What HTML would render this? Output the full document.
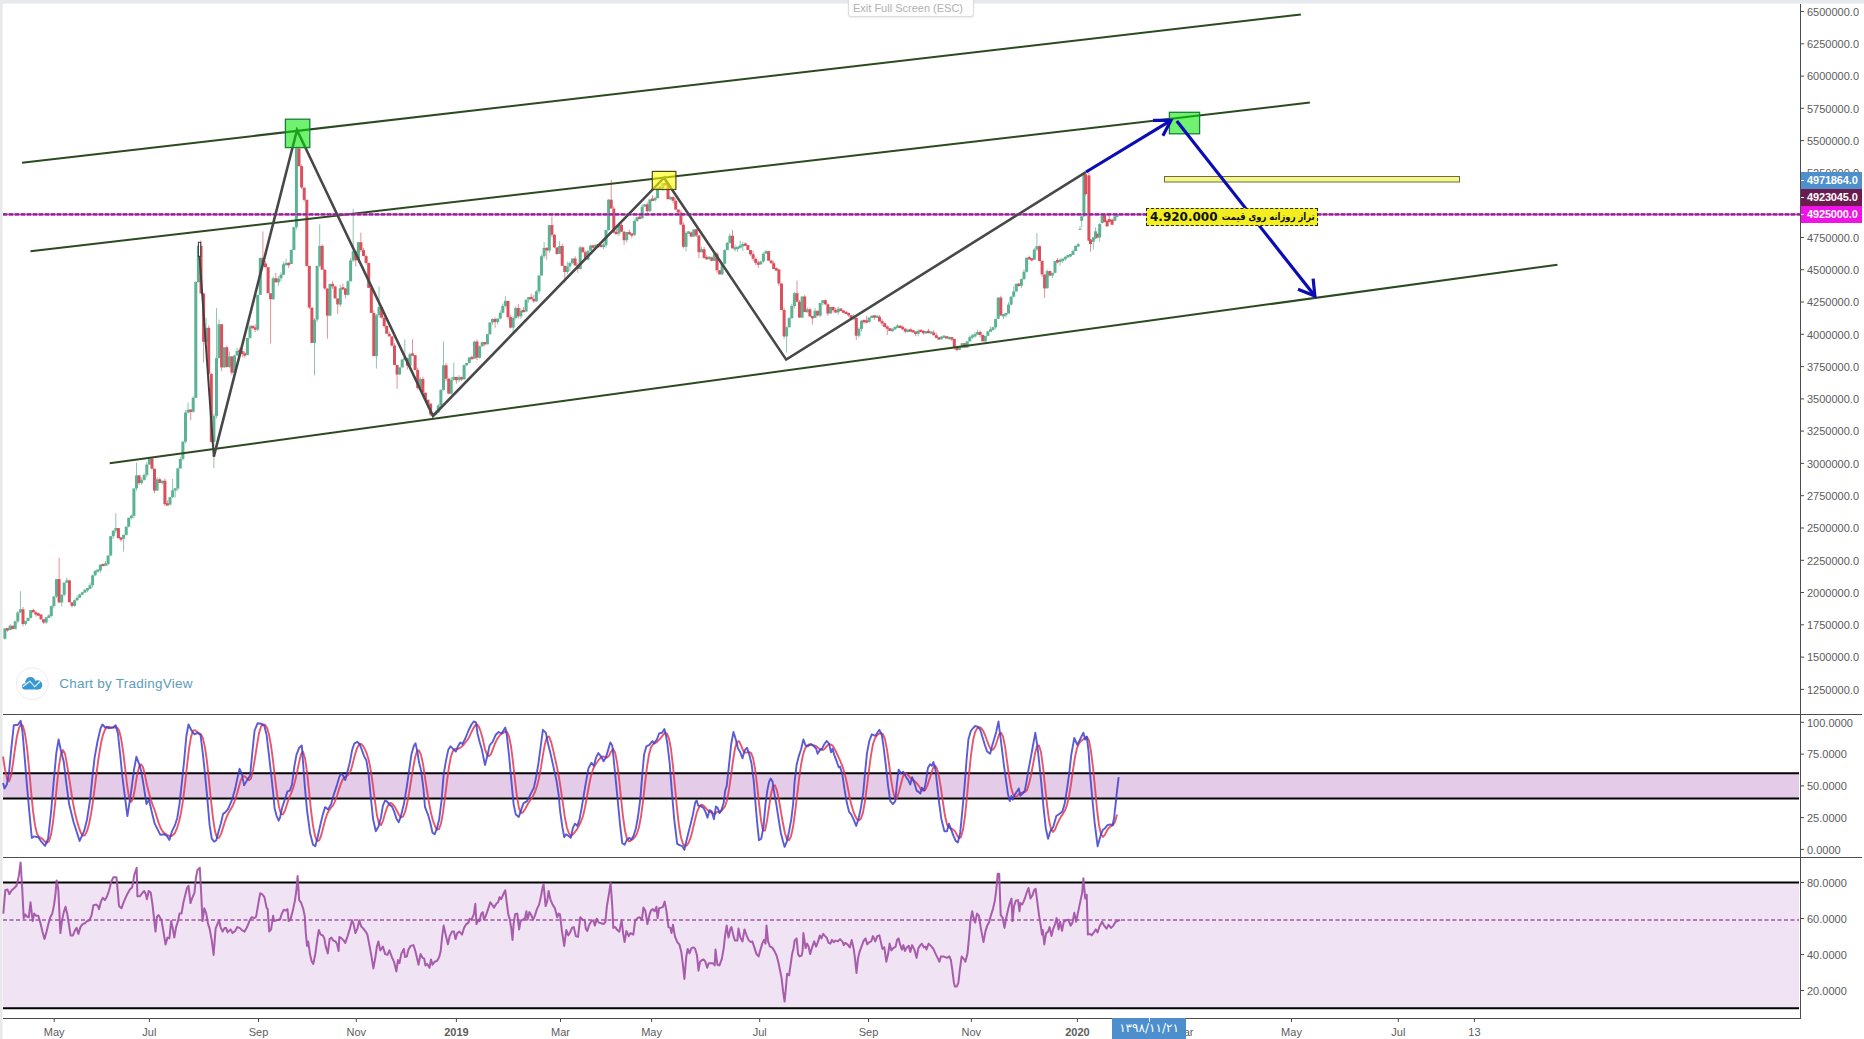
<!DOCTYPE html>
<html lang="fa"><head><meta charset="utf-8"><title>Chart by TradingView</title>
<style>
html,body{margin:0;padding:0;background:#fff;}
body{width:1864px;height:1039px;overflow:hidden;position:relative;font-family:"Liberation Sans","DejaVu Sans",sans-serif;}
svg{position:absolute;left:0;top:0;display:block}
.ax text{font-family:"Liberation Sans",sans-serif;font-size:11px;fill:#5c5c5c}
.exit{position:absolute;left:848px;top:-4px;width:126px;height:21px;border:1px solid #dcdcdc;border-radius:3px;background:#fdfdfd;color:#b2b2b2;font-size:11px;line-height:23px;text-align:left;padding-left:4px;box-sizing:border-box;box-shadow:0 1px 2px rgba(0,0,0,.08)}
.tv{position:absolute;left:59.2px;top:676px;font-size:13.5px;letter-spacing:.23px;color:#5d9cb8;line-height:16px;white-space:nowrap}
.note{position:absolute;left:1146px;top:208px;width:172px;height:18px;box-sizing:border-box;border:1px dashed #222;background:#f3ee22;color:#111;font-family:"DejaVu Sans","Liberation Sans",sans-serif;font-weight:bold;font-size:11.5px;line-height:15px;white-space:nowrap;direction:ltr;overflow:hidden}
.note span{position:absolute;top:0;white-space:nowrap}
.nn{left:3px;top:.5px!important;font-size:12px;direction:ltr}
.na{right:2px;font-size:10.2px;direction:rtl;transform:scaleX(.832);transform-origin:right center}
.tag{position:absolute;left:1801px;width:61px;height:17px;color:#fff;font-weight:bold;font-size:11px;line-height:17px;text-indent:6px;white-space:nowrap;letter-spacing:-0.15px}
.tag:before{content:"";position:absolute;left:0;top:8px;width:3px;height:1px;background:#fff}
.dt:before{content:"";position:absolute;left:37px;top:0;width:1px;height:4px;background:#fff}
.dt{position:absolute;left:1112px;top:1018px;width:74px;height:21px;background:#4c8fcc;color:#fff;font-size:12px;line-height:21px;text-align:center;font-family:"DejaVu Sans","Liberation Sans",sans-serif;direction:ltr}
</style></head><body>
<svg width="1864" height="1039" viewBox="0 0 1864 1039">
<rect width="1864" height="1039" fill="#fff"/>
<rect x="0" y="0" width="1864" height="3.6" fill="#e7eaec"/>
<rect x="0" y="0" width="2.6" height="1039" fill="#e9e9ea"/>
<!-- stoch band -->
<rect x="3" y="773" width="1796" height="26" fill="#e4cbe8"/>
<!-- rsi band -->
<rect x="3" y="882" width="1796" height="126" fill="#f0e3f3"/>
<!-- candles -->
<g>
<path d="M4.9 628.4V639.6" stroke="#8fc4b0" stroke-width="1"/>
<path d="M7.5 628.4V631.7" stroke="#e2929a" stroke-width="1"/>
<path d="M10.1 624.1V630.1" stroke="#8fc4b0" stroke-width="1"/>
<path d="M12.6 625.7V629.1" stroke="#e2929a" stroke-width="1"/>
<path d="M15.2 620.6V629.1" stroke="#8fc4b0" stroke-width="1"/>
<path d="M17.8 610.9V623.5" stroke="#8fc4b0" stroke-width="1"/>
<path d="M20.4 591.2V612.5" stroke="#8fc4b0" stroke-width="1"/>
<path d="M23.0 606.9V626.3" stroke="#e2929a" stroke-width="1"/>
<path d="M25.5 620.9V625.5" stroke="#8fc4b0" stroke-width="1"/>
<path d="M28.1 617.9V620.9" stroke="#8fc4b0" stroke-width="1"/>
<path d="M30.7 610.2V618.7" stroke="#8fc4b0" stroke-width="1"/>
<path d="M33.3 608.6V612.3" stroke="#e2929a" stroke-width="1"/>
<path d="M35.9 610.7V616.8" stroke="#e2929a" stroke-width="1"/>
<path d="M38.4 612.8V616.2" stroke="#e2929a" stroke-width="1"/>
<path d="M41.0 613.8V619.3" stroke="#e2929a" stroke-width="1"/>
<path d="M43.6 619.3V624.1" stroke="#e2929a" stroke-width="1"/>
<path d="M46.2 617.3V624.1" stroke="#8fc4b0" stroke-width="1"/>
<path d="M48.8 614.1V618.1" stroke="#8fc4b0" stroke-width="1"/>
<path d="M51.3 605.3V616.8" stroke="#8fc4b0" stroke-width="1"/>
<path d="M53.9 596.4V608.5" stroke="#8fc4b0" stroke-width="1"/>
<path d="M56.5 579.1V598.0" stroke="#8fc4b0" stroke-width="1"/>
<path d="M59.1 557.6V603.2" stroke="#e2929a" stroke-width="1"/>
<path d="M61.7 594.1V606.5" stroke="#8fc4b0" stroke-width="1"/>
<path d="M64.2 582.6V596.5" stroke="#8fc4b0" stroke-width="1"/>
<path d="M66.8 577.6V582.6" stroke="#8fc4b0" stroke-width="1"/>
<path d="M69.4 579.6V602.3" stroke="#e2929a" stroke-width="1"/>
<path d="M72.0 602.3V607.5" stroke="#e2929a" stroke-width="1"/>
<path d="M74.6 599.4V606.7" stroke="#8fc4b0" stroke-width="1"/>
<path d="M77.1 595.6V601.0" stroke="#8fc4b0" stroke-width="1"/>
<path d="M79.7 593.6V597.7" stroke="#8fc4b0" stroke-width="1"/>
<path d="M82.3 591.7V595.2" stroke="#8fc4b0" stroke-width="1"/>
<path d="M84.9 589.4V592.5" stroke="#8fc4b0" stroke-width="1"/>
<path d="M87.5 587.9V592.1" stroke="#8fc4b0" stroke-width="1"/>
<path d="M90.0 582.8V589.5" stroke="#8fc4b0" stroke-width="1"/>
<path d="M92.6 574.6V587.6" stroke="#8fc4b0" stroke-width="1"/>
<path d="M95.2 570.0V576.2" stroke="#8fc4b0" stroke-width="1"/>
<path d="M97.8 570.4V572.5" stroke="#8fc4b0" stroke-width="1"/>
<path d="M100.4 564.0V572.8" stroke="#8fc4b0" stroke-width="1"/>
<path d="M102.9 564.0V565.9" stroke="#e2929a" stroke-width="1"/>
<path d="M105.5 560.9V565.1" stroke="#8fc4b0" stroke-width="1"/>
<path d="M108.1 554.8V565.8" stroke="#8fc4b0" stroke-width="1"/>
<path d="M110.7 536.2V556.4" stroke="#8fc4b0" stroke-width="1"/>
<path d="M113.3 529.9V538.6" stroke="#8fc4b0" stroke-width="1"/>
<path d="M115.8 513.3V533.1" stroke="#8fc4b0" stroke-width="1"/>
<path d="M118.4 528.1V538.2" stroke="#e2929a" stroke-width="1"/>
<path d="M121.0 538.2V541.8" stroke="#e2929a" stroke-width="1"/>
<path d="M123.6 534.8V551.5" stroke="#8fc4b0" stroke-width="1"/>
<path d="M126.2 526.6V535.6" stroke="#8fc4b0" stroke-width="1"/>
<path d="M128.7 517.8V527.4" stroke="#8fc4b0" stroke-width="1"/>
<path d="M131.3 514.3V519.4" stroke="#8fc4b0" stroke-width="1"/>
<path d="M133.9 488.4V518.3" stroke="#8fc4b0" stroke-width="1"/>
<path d="M136.5 462.7V490.8" stroke="#8fc4b0" stroke-width="1"/>
<path d="M139.1 475.4V485.0" stroke="#e2929a" stroke-width="1"/>
<path d="M141.6 477.4V484.7" stroke="#8fc4b0" stroke-width="1"/>
<path d="M144.2 473.5V480.7" stroke="#8fc4b0" stroke-width="1"/>
<path d="M146.8 462.2V477.3" stroke="#8fc4b0" stroke-width="1"/>
<path d="M149.4 458.4V464.6" stroke="#8fc4b0" stroke-width="1"/>
<path d="M152.0 458.4V469.5" stroke="#e2929a" stroke-width="1"/>
<path d="M154.5 468.7V493.1" stroke="#e2929a" stroke-width="1"/>
<path d="M157.1 477.1V490.6" stroke="#8fc4b0" stroke-width="1"/>
<path d="M159.7 477.7V482.9" stroke="#e2929a" stroke-width="1"/>
<path d="M162.3 480.8V484.5" stroke="#8fc4b0" stroke-width="1"/>
<path d="M164.9 478.4V506.1" stroke="#e2929a" stroke-width="1"/>
<path d="M167.4 500.3V505.4" stroke="#e2929a" stroke-width="1"/>
<path d="M170.0 497.2V505.4" stroke="#8fc4b0" stroke-width="1"/>
<path d="M172.6 479.0V498.0" stroke="#8fc4b0" stroke-width="1"/>
<path d="M175.2 488.4V497.5" stroke="#8fc4b0" stroke-width="1"/>
<path d="M177.8 467.7V490.8" stroke="#8fc4b0" stroke-width="1"/>
<path d="M180.3 456.6V468.5" stroke="#8fc4b0" stroke-width="1"/>
<path d="M182.9 441.6V460.6" stroke="#8fc4b0" stroke-width="1"/>
<path d="M185.5 410.2V443.2" stroke="#8fc4b0" stroke-width="1"/>
<path d="M188.1 402.4V413.4" stroke="#8fc4b0" stroke-width="1"/>
<path d="M190.7 409.7V420.2" stroke="#e2929a" stroke-width="1"/>
<path d="M193.2 396.2V412.6" stroke="#8fc4b0" stroke-width="1"/>
<path d="M195.8 281.2V397.8" stroke="#8fc4b0" stroke-width="1"/>
<path d="M198.4 244.3V282.8" stroke="#8fc4b0" stroke-width="1"/>
<path d="M201.0 240.4V293.5" stroke="#e2929a" stroke-width="1"/>
<path d="M203.6 292.7V362.6" stroke="#e2929a" stroke-width="1"/>
<path d="M206.1 317.6V343.4" stroke="#8fc4b0" stroke-width="1"/>
<path d="M208.7 325.3V373.9" stroke="#e2929a" stroke-width="1"/>
<path d="M211.3 373.1V442.7" stroke="#e2929a" stroke-width="1"/>
<path d="M213.9 413.5V468.2" stroke="#8fc4b0" stroke-width="1"/>
<path d="M216.5 308.1V418.3" stroke="#8fc4b0" stroke-width="1"/>
<path d="M219.0 319.4V358.1" stroke="#8fc4b0" stroke-width="1"/>
<path d="M221.6 324.2V371.0" stroke="#e2929a" stroke-width="1"/>
<path d="M224.2 347.3V368.1" stroke="#8fc4b0" stroke-width="1"/>
<path d="M226.8 345.7V367.7" stroke="#e2929a" stroke-width="1"/>
<path d="M229.4 351.6V367.8" stroke="#8fc4b0" stroke-width="1"/>
<path d="M231.9 356.4V375.2" stroke="#e2929a" stroke-width="1"/>
<path d="M234.5 354.7V375.2" stroke="#8fc4b0" stroke-width="1"/>
<path d="M237.1 348.1V355.5" stroke="#8fc4b0" stroke-width="1"/>
<path d="M239.7 347.8V351.9" stroke="#e2929a" stroke-width="1"/>
<path d="M242.3 348.7V357.3" stroke="#e2929a" stroke-width="1"/>
<path d="M244.8 351.5V357.7" stroke="#e2929a" stroke-width="1"/>
<path d="M247.4 337.7V355.0" stroke="#8fc4b0" stroke-width="1"/>
<path d="M250.0 324.8V338.8" stroke="#8fc4b0" stroke-width="1"/>
<path d="M252.6 326.4V329.1" stroke="#e2929a" stroke-width="1"/>
<path d="M255.2 324.4V332.0" stroke="#e2929a" stroke-width="1"/>
<path d="M257.7 294.9V331.2" stroke="#8fc4b0" stroke-width="1"/>
<path d="M260.3 257.6V294.9" stroke="#8fc4b0" stroke-width="1"/>
<path d="M262.9 231.4V265.9" stroke="#e2929a" stroke-width="1"/>
<path d="M265.5 261.1V267.2" stroke="#e2929a" stroke-width="1"/>
<path d="M268.1 267.2V293.3" stroke="#e2929a" stroke-width="1"/>
<path d="M270.6 293.3V343.5" stroke="#e2929a" stroke-width="1"/>
<path d="M273.2 276.7V300.0" stroke="#8fc4b0" stroke-width="1"/>
<path d="M275.8 273.0V282.3" stroke="#e2929a" stroke-width="1"/>
<path d="M278.4 276.1V285.9" stroke="#8fc4b0" stroke-width="1"/>
<path d="M281.0 272.2V281.7" stroke="#8fc4b0" stroke-width="1"/>
<path d="M283.5 261.7V275.4" stroke="#8fc4b0" stroke-width="1"/>
<path d="M286.1 258.7V264.3" stroke="#8fc4b0" stroke-width="1"/>
<path d="M288.7 262.4V267.9" stroke="#e2929a" stroke-width="1"/>
<path d="M291.3 249.2V264.0" stroke="#8fc4b0" stroke-width="1"/>
<path d="M293.9 227.1V250.0" stroke="#8fc4b0" stroke-width="1"/>
<path d="M296.4 146.8V229.5" stroke="#8fc4b0" stroke-width="1"/>
<path d="M299.0 148.4V166.9" stroke="#e2929a" stroke-width="1"/>
<path d="M301.6 164.5V189.2" stroke="#e2929a" stroke-width="1"/>
<path d="M304.2 187.6V201.4" stroke="#e2929a" stroke-width="1"/>
<path d="M306.8 199.8V266.7" stroke="#e2929a" stroke-width="1"/>
<path d="M309.3 265.9V309.2" stroke="#e2929a" stroke-width="1"/>
<path d="M311.9 307.6V342.8" stroke="#e2929a" stroke-width="1"/>
<path d="M314.5 318.1V375.3" stroke="#8fc4b0" stroke-width="1"/>
<path d="M317.1 265.8V322.1" stroke="#8fc4b0" stroke-width="1"/>
<path d="M319.7 224.4V267.4" stroke="#8fc4b0" stroke-width="1"/>
<path d="M322.2 244.3V269.8" stroke="#e2929a" stroke-width="1"/>
<path d="M324.8 268.5V290.1" stroke="#e2929a" stroke-width="1"/>
<path d="M327.4 288.5V338.7" stroke="#e2929a" stroke-width="1"/>
<path d="M330.0 283.9V316.4" stroke="#8fc4b0" stroke-width="1"/>
<path d="M332.6 281.2V288.8" stroke="#e2929a" stroke-width="1"/>
<path d="M335.1 286.4V298.4" stroke="#e2929a" stroke-width="1"/>
<path d="M337.7 298.4V314.0" stroke="#e2929a" stroke-width="1"/>
<path d="M340.3 284.8V306.9" stroke="#8fc4b0" stroke-width="1"/>
<path d="M342.9 283.4V288.4" stroke="#e2929a" stroke-width="1"/>
<path d="M345.5 288.4V298.5" stroke="#e2929a" stroke-width="1"/>
<path d="M348.0 280.4V295.6" stroke="#8fc4b0" stroke-width="1"/>
<path d="M350.6 258.0V281.3" stroke="#8fc4b0" stroke-width="1"/>
<path d="M353.2 208.8V262.0" stroke="#8fc4b0" stroke-width="1"/>
<path d="M355.8 250.4V266.3" stroke="#e2929a" stroke-width="1"/>
<path d="M358.4 242.2V262.8" stroke="#8fc4b0" stroke-width="1"/>
<path d="M360.9 232.6V251.7" stroke="#e2929a" stroke-width="1"/>
<path d="M363.5 247.7V256.1" stroke="#e2929a" stroke-width="1"/>
<path d="M366.1 254.5V264.5" stroke="#e2929a" stroke-width="1"/>
<path d="M368.7 262.9V287.9" stroke="#e2929a" stroke-width="1"/>
<path d="M371.3 287.9V313.0" stroke="#e2929a" stroke-width="1"/>
<path d="M373.8 310.2V356.0" stroke="#e2929a" stroke-width="1"/>
<path d="M376.4 314.0V368.6" stroke="#8fc4b0" stroke-width="1"/>
<path d="M379.0 286.4V317.6" stroke="#8fc4b0" stroke-width="1"/>
<path d="M381.6 306.2V318.6" stroke="#e2929a" stroke-width="1"/>
<path d="M384.2 315.4V327.6" stroke="#e2929a" stroke-width="1"/>
<path d="M386.7 325.2V333.8" stroke="#e2929a" stroke-width="1"/>
<path d="M389.3 331.4V336.4" stroke="#e2929a" stroke-width="1"/>
<path d="M391.9 336.4V346.4" stroke="#e2929a" stroke-width="1"/>
<path d="M394.5 343.2V365.0" stroke="#e2929a" stroke-width="1"/>
<path d="M397.1 365.0V388.8" stroke="#e2929a" stroke-width="1"/>
<path d="M399.6 367.4V375.2" stroke="#8fc4b0" stroke-width="1"/>
<path d="M402.2 358.8V367.4" stroke="#8fc4b0" stroke-width="1"/>
<path d="M404.8 339.3V360.4" stroke="#8fc4b0" stroke-width="1"/>
<path d="M407.4 357.5V369.4" stroke="#e2929a" stroke-width="1"/>
<path d="M410.0 352.6V368.1" stroke="#8fc4b0" stroke-width="1"/>
<path d="M412.5 339.4V355.1" stroke="#e2929a" stroke-width="1"/>
<path d="M415.1 355.1V370.0" stroke="#e2929a" stroke-width="1"/>
<path d="M417.7 367.6V389.5" stroke="#e2929a" stroke-width="1"/>
<path d="M420.3 377.0V389.0" stroke="#8fc4b0" stroke-width="1"/>
<path d="M422.9 376.6V392.7" stroke="#e2929a" stroke-width="1"/>
<path d="M425.4 392.7V400.5" stroke="#e2929a" stroke-width="1"/>
<path d="M428.0 399.7V408.2" stroke="#e2929a" stroke-width="1"/>
<path d="M430.6 403.6V415.9" stroke="#e2929a" stroke-width="1"/>
<path d="M433.2 413.5V415.8" stroke="#e2929a" stroke-width="1"/>
<path d="M435.8 410.0V415.4" stroke="#8fc4b0" stroke-width="1"/>
<path d="M438.3 403.9V413.2" stroke="#8fc4b0" stroke-width="1"/>
<path d="M440.9 389.1V407.9" stroke="#8fc4b0" stroke-width="1"/>
<path d="M443.5 341.6V390.7" stroke="#8fc4b0" stroke-width="1"/>
<path d="M446.1 362.9V381.1" stroke="#e2929a" stroke-width="1"/>
<path d="M448.7 377.9V394.4" stroke="#e2929a" stroke-width="1"/>
<path d="M451.2 377.0V394.7" stroke="#8fc4b0" stroke-width="1"/>
<path d="M453.8 362.5V380.7" stroke="#8fc4b0" stroke-width="1"/>
<path d="M456.4 376.9V383.7" stroke="#e2929a" stroke-width="1"/>
<path d="M459.0 375.1V381.9" stroke="#8fc4b0" stroke-width="1"/>
<path d="M461.6 376.5V381.0" stroke="#e2929a" stroke-width="1"/>
<path d="M464.1 364.4V379.4" stroke="#8fc4b0" stroke-width="1"/>
<path d="M466.7 362.9V366.0" stroke="#8fc4b0" stroke-width="1"/>
<path d="M469.3 356.8V363.7" stroke="#8fc4b0" stroke-width="1"/>
<path d="M471.9 355.5V359.4" stroke="#e2929a" stroke-width="1"/>
<path d="M474.5 340.8V358.6" stroke="#8fc4b0" stroke-width="1"/>
<path d="M477.0 339.4V360.1" stroke="#e2929a" stroke-width="1"/>
<path d="M479.6 345.5V358.5" stroke="#8fc4b0" stroke-width="1"/>
<path d="M482.2 341.6V346.3" stroke="#8fc4b0" stroke-width="1"/>
<path d="M484.8 342.1V346.1" stroke="#e2929a" stroke-width="1"/>
<path d="M487.4 334.1V344.3" stroke="#8fc4b0" stroke-width="1"/>
<path d="M489.9 322.4V334.9" stroke="#8fc4b0" stroke-width="1"/>
<path d="M492.5 318.2V324.8" stroke="#8fc4b0" stroke-width="1"/>
<path d="M495.1 317.4V327.7" stroke="#e2929a" stroke-width="1"/>
<path d="M497.7 318.5V324.5" stroke="#8fc4b0" stroke-width="1"/>
<path d="M500.3 310.2V319.3" stroke="#8fc4b0" stroke-width="1"/>
<path d="M502.8 303.5V313.6" stroke="#8fc4b0" stroke-width="1"/>
<path d="M505.4 296.1V307.5" stroke="#8fc4b0" stroke-width="1"/>
<path d="M508.0 300.9V319.5" stroke="#e2929a" stroke-width="1"/>
<path d="M510.6 314.7V328.4" stroke="#e2929a" stroke-width="1"/>
<path d="M513.2 316.4V332.8" stroke="#8fc4b0" stroke-width="1"/>
<path d="M515.7 306.4V319.6" stroke="#8fc4b0" stroke-width="1"/>
<path d="M518.3 304.0V318.7" stroke="#e2929a" stroke-width="1"/>
<path d="M520.9 308.2V318.7" stroke="#8fc4b0" stroke-width="1"/>
<path d="M523.5 307.1V311.6" stroke="#e2929a" stroke-width="1"/>
<path d="M526.1 299.7V311.6" stroke="#8fc4b0" stroke-width="1"/>
<path d="M528.6 297.1V302.6" stroke="#8fc4b0" stroke-width="1"/>
<path d="M531.2 293.6V299.0" stroke="#e2929a" stroke-width="1"/>
<path d="M533.8 295.0V302.8" stroke="#e2929a" stroke-width="1"/>
<path d="M536.4 289.9V302.0" stroke="#8fc4b0" stroke-width="1"/>
<path d="M539.0 275.5V293.8" stroke="#8fc4b0" stroke-width="1"/>
<path d="M541.5 254.6V275.5" stroke="#8fc4b0" stroke-width="1"/>
<path d="M544.1 242.0V258.6" stroke="#8fc4b0" stroke-width="1"/>
<path d="M546.7 247.1V259.7" stroke="#e2929a" stroke-width="1"/>
<path d="M549.3 225.1V252.9" stroke="#8fc4b0" stroke-width="1"/>
<path d="M551.9 216.6V237.2" stroke="#e2929a" stroke-width="1"/>
<path d="M554.4 234.0V248.2" stroke="#e2929a" stroke-width="1"/>
<path d="M557.0 247.4V254.7" stroke="#e2929a" stroke-width="1"/>
<path d="M559.6 241.2V253.9" stroke="#8fc4b0" stroke-width="1"/>
<path d="M562.2 243.6V265.8" stroke="#e2929a" stroke-width="1"/>
<path d="M564.8 265.8V282.7" stroke="#e2929a" stroke-width="1"/>
<path d="M567.3 261.8V274.4" stroke="#8fc4b0" stroke-width="1"/>
<path d="M569.9 261.4V270.8" stroke="#8fc4b0" stroke-width="1"/>
<path d="M572.5 258.5V263.8" stroke="#8fc4b0" stroke-width="1"/>
<path d="M575.1 256.1V266.4" stroke="#e2929a" stroke-width="1"/>
<path d="M577.7 262.9V272.7" stroke="#e2929a" stroke-width="1"/>
<path d="M580.2 245.8V269.7" stroke="#8fc4b0" stroke-width="1"/>
<path d="M582.8 246.6V252.2" stroke="#e2929a" stroke-width="1"/>
<path d="M585.4 250.6V259.6" stroke="#e2929a" stroke-width="1"/>
<path d="M588.0 250.7V260.4" stroke="#8fc4b0" stroke-width="1"/>
<path d="M590.6 244.7V250.7" stroke="#8fc4b0" stroke-width="1"/>
<path d="M593.1 244.7V248.4" stroke="#e2929a" stroke-width="1"/>
<path d="M595.7 244.6V247.6" stroke="#8fc4b0" stroke-width="1"/>
<path d="M598.3 244.6V247.9" stroke="#e2929a" stroke-width="1"/>
<path d="M600.9 244.4V246.5" stroke="#e2929a" stroke-width="1"/>
<path d="M603.5 242.8V249.0" stroke="#8fc4b0" stroke-width="1"/>
<path d="M606.0 230.0V247.6" stroke="#8fc4b0" stroke-width="1"/>
<path d="M608.6 198.9V230.8" stroke="#8fc4b0" stroke-width="1"/>
<path d="M611.2 179.9V208.6" stroke="#e2929a" stroke-width="1"/>
<path d="M613.8 206.2V233.4" stroke="#e2929a" stroke-width="1"/>
<path d="M616.4 228.4V233.6" stroke="#e2929a" stroke-width="1"/>
<path d="M618.9 224.1V236.0" stroke="#8fc4b0" stroke-width="1"/>
<path d="M621.5 223.4V231.7" stroke="#e2929a" stroke-width="1"/>
<path d="M624.1 230.9V244.9" stroke="#e2929a" stroke-width="1"/>
<path d="M626.7 232.0V242.6" stroke="#8fc4b0" stroke-width="1"/>
<path d="M629.3 229.6V235.0" stroke="#e2929a" stroke-width="1"/>
<path d="M631.8 234.2V238.3" stroke="#e2929a" stroke-width="1"/>
<path d="M634.4 219.4V236.3" stroke="#8fc4b0" stroke-width="1"/>
<path d="M637.0 216.5V221.8" stroke="#8fc4b0" stroke-width="1"/>
<path d="M639.6 215.6V218.2" stroke="#e2929a" stroke-width="1"/>
<path d="M642.2 204.2V219.0" stroke="#8fc4b0" stroke-width="1"/>
<path d="M644.7 204.3V206.6" stroke="#8fc4b0" stroke-width="1"/>
<path d="M647.3 202.4V212.8" stroke="#e2929a" stroke-width="1"/>
<path d="M649.9 198.7V212.0" stroke="#8fc4b0" stroke-width="1"/>
<path d="M652.5 195.2V200.8" stroke="#e2929a" stroke-width="1"/>
<path d="M655.1 196.6V201.6" stroke="#8fc4b0" stroke-width="1"/>
<path d="M657.6 187.7V198.2" stroke="#8fc4b0" stroke-width="1"/>
<path d="M660.2 185.8V189.3" stroke="#e2929a" stroke-width="1"/>
<path d="M662.8 183.1V190.9" stroke="#8fc4b0" stroke-width="1"/>
<path d="M665.4 176.9V185.3" stroke="#e2929a" stroke-width="1"/>
<path d="M668.0 182.7V199.2" stroke="#e2929a" stroke-width="1"/>
<path d="M670.5 196.3V200.0" stroke="#8fc4b0" stroke-width="1"/>
<path d="M673.1 196.3V203.3" stroke="#e2929a" stroke-width="1"/>
<path d="M675.7 198.4V210.3" stroke="#e2929a" stroke-width="1"/>
<path d="M678.3 209.5V213.3" stroke="#e2929a" stroke-width="1"/>
<path d="M680.9 210.1V225.5" stroke="#e2929a" stroke-width="1"/>
<path d="M683.4 222.3V248.5" stroke="#e2929a" stroke-width="1"/>
<path d="M686.0 231.3V251.5" stroke="#8fc4b0" stroke-width="1"/>
<path d="M688.6 231.1V233.8" stroke="#8fc4b0" stroke-width="1"/>
<path d="M691.2 231.6V237.3" stroke="#e2929a" stroke-width="1"/>
<path d="M693.8 229.4V236.5" stroke="#8fc4b0" stroke-width="1"/>
<path d="M696.3 228.6V237.0" stroke="#e2929a" stroke-width="1"/>
<path d="M698.9 235.4V258.2" stroke="#e2929a" stroke-width="1"/>
<path d="M701.5 246.9V252.2" stroke="#8fc4b0" stroke-width="1"/>
<path d="M704.1 246.8V258.7" stroke="#e2929a" stroke-width="1"/>
<path d="M706.7 255.0V259.8" stroke="#e2929a" stroke-width="1"/>
<path d="M709.2 256.6V260.4" stroke="#8fc4b0" stroke-width="1"/>
<path d="M711.8 256.6V261.5" stroke="#e2929a" stroke-width="1"/>
<path d="M714.4 252.1V260.7" stroke="#8fc4b0" stroke-width="1"/>
<path d="M717.0 252.2V272.7" stroke="#e2929a" stroke-width="1"/>
<path d="M719.6 270.3V274.3" stroke="#e2929a" stroke-width="1"/>
<path d="M722.1 263.8V275.1" stroke="#8fc4b0" stroke-width="1"/>
<path d="M724.7 249.3V264.6" stroke="#8fc4b0" stroke-width="1"/>
<path d="M727.3 241.9V250.1" stroke="#8fc4b0" stroke-width="1"/>
<path d="M729.9 233.4V243.7" stroke="#8fc4b0" stroke-width="1"/>
<path d="M732.5 230.0V248.4" stroke="#e2929a" stroke-width="1"/>
<path d="M735.0 244.7V251.5" stroke="#8fc4b0" stroke-width="1"/>
<path d="M737.6 247.1V251.8" stroke="#8fc4b0" stroke-width="1"/>
<path d="M740.2 240.8V248.7" stroke="#8fc4b0" stroke-width="1"/>
<path d="M742.8 241.9V250.9" stroke="#8fc4b0" stroke-width="1"/>
<path d="M745.4 242.2V245.1" stroke="#e2929a" stroke-width="1"/>
<path d="M747.9 245.1V250.1" stroke="#e2929a" stroke-width="1"/>
<path d="M750.5 250.1V255.8" stroke="#e2929a" stroke-width="1"/>
<path d="M753.1 250.5V261.2" stroke="#e2929a" stroke-width="1"/>
<path d="M755.7 257.4V265.3" stroke="#e2929a" stroke-width="1"/>
<path d="M758.3 260.5V268.1" stroke="#e2929a" stroke-width="1"/>
<path d="M760.8 260.7V264.4" stroke="#8fc4b0" stroke-width="1"/>
<path d="M763.4 252.1V262.9" stroke="#8fc4b0" stroke-width="1"/>
<path d="M766.0 249.9V253.7" stroke="#8fc4b0" stroke-width="1"/>
<path d="M768.6 251.2V260.6" stroke="#e2929a" stroke-width="1"/>
<path d="M771.2 259.8V264.0" stroke="#e2929a" stroke-width="1"/>
<path d="M773.7 260.8V269.1" stroke="#e2929a" stroke-width="1"/>
<path d="M776.3 267.3V271.1" stroke="#e2929a" stroke-width="1"/>
<path d="M778.9 268.7V285.9" stroke="#e2929a" stroke-width="1"/>
<path d="M781.5 283.5V310.0" stroke="#e2929a" stroke-width="1"/>
<path d="M784.1 307.6V338.8" stroke="#e2929a" stroke-width="1"/>
<path d="M786.6 326.4V352.5" stroke="#8fc4b0" stroke-width="1"/>
<path d="M789.2 317.3V327.2" stroke="#8fc4b0" stroke-width="1"/>
<path d="M791.8 303.6V318.9" stroke="#8fc4b0" stroke-width="1"/>
<path d="M794.4 292.0V308.4" stroke="#8fc4b0" stroke-width="1"/>
<path d="M797.0 280.6V302.5" stroke="#e2929a" stroke-width="1"/>
<path d="M799.5 300.1V317.5" stroke="#e2929a" stroke-width="1"/>
<path d="M802.1 296.5V318.3" stroke="#8fc4b0" stroke-width="1"/>
<path d="M804.7 295.0V312.1" stroke="#e2929a" stroke-width="1"/>
<path d="M807.3 307.5V312.9" stroke="#8fc4b0" stroke-width="1"/>
<path d="M809.9 307.7V317.2" stroke="#e2929a" stroke-width="1"/>
<path d="M812.4 316.4V324.6" stroke="#e2929a" stroke-width="1"/>
<path d="M815.0 308.1V318.0" stroke="#8fc4b0" stroke-width="1"/>
<path d="M817.6 310.8V316.4" stroke="#e2929a" stroke-width="1"/>
<path d="M820.2 302.9V317.2" stroke="#8fc4b0" stroke-width="1"/>
<path d="M822.8 300.2V305.3" stroke="#8fc4b0" stroke-width="1"/>
<path d="M825.3 299.4V305.1" stroke="#e2929a" stroke-width="1"/>
<path d="M827.9 303.5V315.9" stroke="#e2929a" stroke-width="1"/>
<path d="M830.5 306.9V313.5" stroke="#8fc4b0" stroke-width="1"/>
<path d="M833.1 306.9V312.7" stroke="#e2929a" stroke-width="1"/>
<path d="M835.7 307.9V313.1" stroke="#e2929a" stroke-width="1"/>
<path d="M838.2 306.5V314.7" stroke="#8fc4b0" stroke-width="1"/>
<path d="M840.8 308.1V311.4" stroke="#e2929a" stroke-width="1"/>
<path d="M843.4 310.6V312.7" stroke="#e2929a" stroke-width="1"/>
<path d="M846.0 312.6V313.8" stroke="#e2929a" stroke-width="1"/>
<path d="M848.6 313.0V316.8" stroke="#e2929a" stroke-width="1"/>
<path d="M851.1 315.2V319.2" stroke="#e2929a" stroke-width="1"/>
<path d="M853.7 314.1V319.2" stroke="#8fc4b0" stroke-width="1"/>
<path d="M856.3 315.6V340.0" stroke="#e2929a" stroke-width="1"/>
<path d="M858.9 327.3V337.8" stroke="#8fc4b0" stroke-width="1"/>
<path d="M861.5 320.0V331.3" stroke="#8fc4b0" stroke-width="1"/>
<path d="M864.0 320.8V323.9" stroke="#e2929a" stroke-width="1"/>
<path d="M866.6 315.8V323.4" stroke="#e2929a" stroke-width="1"/>
<path d="M869.2 317.5V322.8" stroke="#8fc4b0" stroke-width="1"/>
<path d="M871.8 316.0V318.3" stroke="#8fc4b0" stroke-width="1"/>
<path d="M874.4 316.0V319.8" stroke="#e2929a" stroke-width="1"/>
<path d="M876.9 315.9V317.9" stroke="#8fc4b0" stroke-width="1"/>
<path d="M879.5 315.1V321.5" stroke="#e2929a" stroke-width="1"/>
<path d="M882.1 319.1V326.2" stroke="#e2929a" stroke-width="1"/>
<path d="M884.7 322.4V327.7" stroke="#e2929a" stroke-width="1"/>
<path d="M887.3 325.3V335.0" stroke="#e2929a" stroke-width="1"/>
<path d="M889.8 328.2V331.0" stroke="#e2929a" stroke-width="1"/>
<path d="M892.4 328.2V331.8" stroke="#8fc4b0" stroke-width="1"/>
<path d="M895.0 326.3V329.8" stroke="#8fc4b0" stroke-width="1"/>
<path d="M897.6 324.1V328.1" stroke="#8fc4b0" stroke-width="1"/>
<path d="M900.2 325.2V327.7" stroke="#e2929a" stroke-width="1"/>
<path d="M902.7 325.3V330.1" stroke="#e2929a" stroke-width="1"/>
<path d="M905.3 328.6V333.2" stroke="#e2929a" stroke-width="1"/>
<path d="M907.9 329.2V332.4" stroke="#8fc4b0" stroke-width="1"/>
<path d="M910.5 328.4V331.5" stroke="#e2929a" stroke-width="1"/>
<path d="M913.1 330.2V331.6" stroke="#e2929a" stroke-width="1"/>
<path d="M915.6 331.6V336.2" stroke="#e2929a" stroke-width="1"/>
<path d="M918.2 329.2V336.4" stroke="#8fc4b0" stroke-width="1"/>
<path d="M920.8 330.0V331.5" stroke="#e2929a" stroke-width="1"/>
<path d="M923.4 330.2V334.6" stroke="#e2929a" stroke-width="1"/>
<path d="M926.0 331.3V333.8" stroke="#8fc4b0" stroke-width="1"/>
<path d="M928.5 328.9V333.4" stroke="#e2929a" stroke-width="1"/>
<path d="M931.1 332.5V333.4" stroke="#8fc4b0" stroke-width="1"/>
<path d="M933.7 330.1V335.2" stroke="#e2929a" stroke-width="1"/>
<path d="M936.3 332.8V337.9" stroke="#e2929a" stroke-width="1"/>
<path d="M938.9 337.1V339.7" stroke="#e2929a" stroke-width="1"/>
<path d="M941.4 336.0V339.7" stroke="#8fc4b0" stroke-width="1"/>
<path d="M944.0 335.9V337.0" stroke="#8fc4b0" stroke-width="1"/>
<path d="M946.6 336.7V338.1" stroke="#e2929a" stroke-width="1"/>
<path d="M949.2 337.0V339.7" stroke="#8fc4b0" stroke-width="1"/>
<path d="M951.8 337.8V341.1" stroke="#e2929a" stroke-width="1"/>
<path d="M954.3 338.9V349.7" stroke="#e2929a" stroke-width="1"/>
<path d="M956.9 345.6V351.4" stroke="#e2929a" stroke-width="1"/>
<path d="M959.5 347.5V349.7" stroke="#8fc4b0" stroke-width="1"/>
<path d="M962.1 343.2V348.3" stroke="#8fc4b0" stroke-width="1"/>
<path d="M964.7 343.2V348.4" stroke="#e2929a" stroke-width="1"/>
<path d="M967.2 341.4V347.6" stroke="#8fc4b0" stroke-width="1"/>
<path d="M969.8 335.5V341.4" stroke="#8fc4b0" stroke-width="1"/>
<path d="M972.4 334.0V338.7" stroke="#8fc4b0" stroke-width="1"/>
<path d="M975.0 331.8V337.6" stroke="#8fc4b0" stroke-width="1"/>
<path d="M977.6 329.6V334.6" stroke="#8fc4b0" stroke-width="1"/>
<path d="M980.1 330.4V337.2" stroke="#e2929a" stroke-width="1"/>
<path d="M982.7 334.8V341.4" stroke="#e2929a" stroke-width="1"/>
<path d="M985.3 335.9V341.5" stroke="#8fc4b0" stroke-width="1"/>
<path d="M987.9 330.6V335.9" stroke="#8fc4b0" stroke-width="1"/>
<path d="M990.5 326.9V331.4" stroke="#8fc4b0" stroke-width="1"/>
<path d="M993.0 326.5V330.7" stroke="#8fc4b0" stroke-width="1"/>
<path d="M995.6 318.9V328.9" stroke="#8fc4b0" stroke-width="1"/>
<path d="M998.2 297.2V318.9" stroke="#8fc4b0" stroke-width="1"/>
<path d="M1000.8 296.0V316.2" stroke="#e2929a" stroke-width="1"/>
<path d="M1003.4 314.9V319.0" stroke="#8fc4b0" stroke-width="1"/>
<path d="M1005.9 313.5V317.3" stroke="#8fc4b0" stroke-width="1"/>
<path d="M1008.5 302.3V313.5" stroke="#8fc4b0" stroke-width="1"/>
<path d="M1011.1 295.9V305.5" stroke="#8fc4b0" stroke-width="1"/>
<path d="M1013.7 285.9V297.5" stroke="#8fc4b0" stroke-width="1"/>
<path d="M1016.3 283.8V292.2" stroke="#8fc4b0" stroke-width="1"/>
<path d="M1018.8 283.0V286.9" stroke="#e2929a" stroke-width="1"/>
<path d="M1021.4 278.3V288.2" stroke="#8fc4b0" stroke-width="1"/>
<path d="M1024.0 269.3V279.9" stroke="#8fc4b0" stroke-width="1"/>
<path d="M1026.6 257.7V272.5" stroke="#8fc4b0" stroke-width="1"/>
<path d="M1029.2 255.5V258.9" stroke="#e2929a" stroke-width="1"/>
<path d="M1031.7 258.1V261.3" stroke="#e2929a" stroke-width="1"/>
<path d="M1034.3 247.7V259.7" stroke="#8fc4b0" stroke-width="1"/>
<path d="M1036.9 233.0V251.1" stroke="#8fc4b0" stroke-width="1"/>
<path d="M1039.5 245.4V261.0" stroke="#e2929a" stroke-width="1"/>
<path d="M1042.1 260.2V276.9" stroke="#e2929a" stroke-width="1"/>
<path d="M1044.6 274.5V298.0" stroke="#e2929a" stroke-width="1"/>
<path d="M1047.2 269.5V288.3" stroke="#8fc4b0" stroke-width="1"/>
<path d="M1049.8 270.6V276.4" stroke="#e2929a" stroke-width="1"/>
<path d="M1052.4 272.8V278.1" stroke="#8fc4b0" stroke-width="1"/>
<path d="M1055.0 261.1V273.6" stroke="#8fc4b0" stroke-width="1"/>
<path d="M1057.5 258.0V263.6" stroke="#e2929a" stroke-width="1"/>
<path d="M1060.1 258.2V265.6" stroke="#8fc4b0" stroke-width="1"/>
<path d="M1062.7 259.0V263.0" stroke="#8fc4b0" stroke-width="1"/>
<path d="M1065.3 256.3V260.6" stroke="#8fc4b0" stroke-width="1"/>
<path d="M1067.9 255.2V257.8" stroke="#8fc4b0" stroke-width="1"/>
<path d="M1070.4 254.9V257.4" stroke="#8fc4b0" stroke-width="1"/>
<path d="M1073.0 249.4V254.9" stroke="#8fc4b0" stroke-width="1"/>
<path d="M1075.6 245.8V251.0" stroke="#8fc4b0" stroke-width="1"/>
<path d="M1078.2 242.7V246.3" stroke="#8fc4b0" stroke-width="1"/>
<path d="M1080.0 226.3V229.6" stroke="#8fc4b0" stroke-width="1"/>
<path d="M1081.7 215.8V227.4" stroke="#8fc4b0" stroke-width="1"/>
<path d="M1083.9 172.7V216.9" stroke="#8fc4b0" stroke-width="1"/>
<path d="M1085.6 173.2V195.4" stroke="#e2929a" stroke-width="1"/>
<path d="M1088.9 172.1V241.3" stroke="#e2929a" stroke-width="1"/>
<path d="M1090.5 239.0V251.8" stroke="#e2929a" stroke-width="1"/>
<path d="M1093.3 236.8V249.6" stroke="#8fc4b0" stroke-width="1"/>
<path d="M1095.5 227.4V239.0" stroke="#8fc4b0" stroke-width="1"/>
<path d="M1097.7 233.0V238.5" stroke="#e2929a" stroke-width="1"/>
<path d="M1099.7 223.0V241.8" stroke="#8fc4b0" stroke-width="1"/>
<path d="M1102.2 214.7V223.6" stroke="#8fc4b0" stroke-width="1"/>
<path d="M1104.6 213.6V222.5" stroke="#e2929a" stroke-width="1"/>
<path d="M1107.1 219.7V226.9" stroke="#e2929a" stroke-width="1"/>
<path d="M1109.3 215.3V222.5" stroke="#e2929a" stroke-width="1"/>
<path d="M1112.1 218.6V225.2" stroke="#e2929a" stroke-width="1"/>
<path d="M1114.9 215.3V221.3" stroke="#8fc4b0" stroke-width="1"/>
<path d="M1117.1 213.6V217.5" stroke="#8fc4b0" stroke-width="1"/>
<rect x="3.4" y="628.4" width="3" height="10.3" fill="#5cb394"/>
<rect x="6.0" y="628.1" width="3" height="2.4" fill="#dc505d"/>
<rect x="8.6" y="625.7" width="3" height="4.4" fill="#5cb394"/>
<rect x="11.1" y="625.7" width="3" height="3.4" fill="#dc505d"/>
<rect x="13.7" y="621.4" width="3" height="7.7" fill="#5cb394"/>
<rect x="16.3" y="612.5" width="3" height="8.9" fill="#5cb394"/>
<rect x="18.9" y="609.3" width="3" height="3.2" fill="#5cb394"/>
<rect x="21.5" y="609.3" width="3" height="14.7" fill="#dc505d"/>
<rect x="24.0" y="620.9" width="3" height="3.0" fill="#5cb394"/>
<rect x="26.6" y="617.9" width="3" height="3.1" fill="#5cb394"/>
<rect x="29.2" y="610.2" width="3" height="7.7" fill="#5cb394"/>
<rect x="31.8" y="610.0" width="3" height="2.4" fill="#dc505d"/>
<rect x="34.4" y="612.2" width="3" height="2.4" fill="#dc505d"/>
<rect x="36.9" y="613.3" width="3" height="2.4" fill="#dc505d"/>
<rect x="39.5" y="614.6" width="3" height="4.8" fill="#dc505d"/>
<rect x="42.1" y="619.3" width="3" height="3.2" fill="#dc505d"/>
<rect x="44.7" y="617.3" width="3" height="5.2" fill="#5cb394"/>
<rect x="47.3" y="615.5" width="3" height="2.4" fill="#5cb394"/>
<rect x="49.8" y="606.1" width="3" height="10.0" fill="#5cb394"/>
<rect x="52.4" y="596.4" width="3" height="9.7" fill="#5cb394"/>
<rect x="55.0" y="579.1" width="3" height="17.3" fill="#5cb394"/>
<rect x="57.6" y="579.1" width="3" height="23.3" fill="#dc505d"/>
<rect x="60.2" y="594.9" width="3" height="7.6" fill="#5cb394"/>
<rect x="62.7" y="582.6" width="3" height="12.2" fill="#5cb394"/>
<rect x="65.3" y="580.3" width="3" height="2.4" fill="#5cb394"/>
<rect x="67.9" y="580.4" width="3" height="21.9" fill="#dc505d"/>
<rect x="70.5" y="602.3" width="3" height="3.6" fill="#dc505d"/>
<rect x="73.1" y="600.2" width="3" height="5.7" fill="#5cb394"/>
<rect x="75.6" y="597.7" width="3" height="2.4" fill="#5cb394"/>
<rect x="78.2" y="594.4" width="3" height="3.3" fill="#5cb394"/>
<rect x="80.8" y="592.3" width="3" height="2.4" fill="#5cb394"/>
<rect x="83.4" y="589.7" width="3" height="2.9" fill="#5cb394"/>
<rect x="86.0" y="588.0" width="3" height="2.4" fill="#5cb394"/>
<rect x="88.5" y="585.2" width="3" height="3.5" fill="#5cb394"/>
<rect x="91.1" y="575.4" width="3" height="9.8" fill="#5cb394"/>
<rect x="93.7" y="570.8" width="3" height="4.5" fill="#5cb394"/>
<rect x="96.3" y="569.4" width="3" height="2.4" fill="#5cb394"/>
<rect x="98.9" y="564.8" width="3" height="5.6" fill="#5cb394"/>
<rect x="101.4" y="563.8" width="3" height="2.4" fill="#dc505d"/>
<rect x="104.0" y="563.4" width="3" height="2.4" fill="#5cb394"/>
<rect x="106.6" y="555.6" width="3" height="8.6" fill="#5cb394"/>
<rect x="109.2" y="536.2" width="3" height="19.3" fill="#5cb394"/>
<rect x="111.8" y="530.7" width="3" height="5.5" fill="#5cb394"/>
<rect x="114.3" y="528.1" width="3" height="2.6" fill="#5cb394"/>
<rect x="116.9" y="528.1" width="3" height="10.1" fill="#dc505d"/>
<rect x="119.5" y="537.3" width="3" height="2.4" fill="#dc505d"/>
<rect x="122.1" y="534.8" width="3" height="3.9" fill="#5cb394"/>
<rect x="124.7" y="526.6" width="3" height="8.3" fill="#5cb394"/>
<rect x="127.2" y="517.8" width="3" height="8.8" fill="#5cb394"/>
<rect x="129.8" y="515.7" width="3" height="2.4" fill="#5cb394"/>
<rect x="132.4" y="488.4" width="3" height="27.5" fill="#5cb394"/>
<rect x="135.0" y="475.4" width="3" height="13.0" fill="#5cb394"/>
<rect x="137.6" y="475.4" width="3" height="7.7" fill="#dc505d"/>
<rect x="140.1" y="479.9" width="3" height="3.1" fill="#5cb394"/>
<rect x="142.7" y="474.9" width="3" height="5.0" fill="#5cb394"/>
<rect x="145.3" y="464.6" width="3" height="10.3" fill="#5cb394"/>
<rect x="147.9" y="458.4" width="3" height="6.2" fill="#5cb394"/>
<rect x="150.5" y="458.4" width="3" height="10.3" fill="#dc505d"/>
<rect x="153.0" y="468.7" width="3" height="21.9" fill="#dc505d"/>
<rect x="155.6" y="479.3" width="3" height="11.3" fill="#5cb394"/>
<rect x="158.2" y="479.3" width="3" height="3.6" fill="#dc505d"/>
<rect x="160.8" y="480.7" width="3" height="2.4" fill="#5cb394"/>
<rect x="163.4" y="480.8" width="3" height="23.4" fill="#dc505d"/>
<rect x="165.9" y="503.2" width="3" height="2.4" fill="#dc505d"/>
<rect x="168.5" y="497.2" width="3" height="7.4" fill="#5cb394"/>
<rect x="171.1" y="490.3" width="3" height="6.9" fill="#5cb394"/>
<rect x="173.7" y="488.2" width="3" height="2.4" fill="#5cb394"/>
<rect x="176.3" y="468.5" width="3" height="20.0" fill="#5cb394"/>
<rect x="178.8" y="459.0" width="3" height="9.5" fill="#5cb394"/>
<rect x="181.4" y="441.6" width="3" height="17.3" fill="#5cb394"/>
<rect x="184.0" y="412.6" width="3" height="29.1" fill="#5cb394"/>
<rect x="186.6" y="409.7" width="3" height="2.9" fill="#5cb394"/>
<rect x="189.2" y="409.5" width="3" height="2.4" fill="#dc505d"/>
<rect x="191.7" y="397.8" width="3" height="13.9" fill="#5cb394"/>
<rect x="194.3" y="282.0" width="3" height="115.9" fill="#5cb394"/>
<rect x="196.9" y="245.9" width="3" height="36.1" fill="#5cb394"/>
<rect x="199.5" y="245.9" width="3" height="47.6" fill="#dc505d"/>
<rect x="202.1" y="293.5" width="3" height="48.3" fill="#dc505d"/>
<rect x="204.6" y="327.9" width="3" height="13.9" fill="#5cb394"/>
<rect x="207.2" y="327.9" width="3" height="45.9" fill="#dc505d"/>
<rect x="209.8" y="373.9" width="3" height="68.0" fill="#dc505d"/>
<rect x="212.4" y="415.9" width="3" height="26.0" fill="#5cb394"/>
<rect x="215.0" y="358.1" width="3" height="57.8" fill="#5cb394"/>
<rect x="217.5" y="324.2" width="3" height="34.0" fill="#5cb394"/>
<rect x="220.1" y="324.2" width="3" height="43.2" fill="#dc505d"/>
<rect x="222.7" y="347.3" width="3" height="20.0" fill="#5cb394"/>
<rect x="225.3" y="347.3" width="3" height="19.7" fill="#dc505d"/>
<rect x="227.9" y="356.4" width="3" height="10.6" fill="#5cb394"/>
<rect x="230.4" y="356.4" width="3" height="16.3" fill="#dc505d"/>
<rect x="233.0" y="355.5" width="3" height="17.3" fill="#5cb394"/>
<rect x="235.6" y="351.0" width="3" height="4.5" fill="#5cb394"/>
<rect x="238.2" y="349.9" width="3" height="2.4" fill="#dc505d"/>
<rect x="240.8" y="351.1" width="3" height="2.8" fill="#dc505d"/>
<rect x="243.3" y="353.3" width="3" height="2.4" fill="#dc505d"/>
<rect x="245.9" y="338.0" width="3" height="17.1" fill="#5cb394"/>
<rect x="248.5" y="326.4" width="3" height="11.5" fill="#5cb394"/>
<rect x="251.1" y="325.7" width="3" height="2.4" fill="#dc505d"/>
<rect x="253.7" y="327.3" width="3" height="2.4" fill="#dc505d"/>
<rect x="256.2" y="294.9" width="3" height="34.7" fill="#5cb394"/>
<rect x="258.8" y="257.9" width="3" height="37.0" fill="#5cb394"/>
<rect x="261.4" y="257.9" width="3" height="5.6" fill="#dc505d"/>
<rect x="264.0" y="263.5" width="3" height="3.8" fill="#dc505d"/>
<rect x="266.6" y="267.2" width="3" height="26.0" fill="#dc505d"/>
<rect x="269.1" y="293.3" width="3" height="5.9" fill="#dc505d"/>
<rect x="271.7" y="278.3" width="3" height="20.9" fill="#5cb394"/>
<rect x="274.3" y="278.3" width="3" height="4.0" fill="#dc505d"/>
<rect x="276.9" y="278.5" width="3" height="3.8" fill="#5cb394"/>
<rect x="279.5" y="274.6" width="3" height="3.8" fill="#5cb394"/>
<rect x="282.0" y="264.3" width="3" height="10.4" fill="#5cb394"/>
<rect x="284.6" y="262.9" width="3" height="2.4" fill="#5cb394"/>
<rect x="287.2" y="262.8" width="3" height="2.4" fill="#dc505d"/>
<rect x="289.8" y="250.0" width="3" height="14.0" fill="#5cb394"/>
<rect x="292.4" y="227.1" width="3" height="22.9" fill="#5cb394"/>
<rect x="294.9" y="148.4" width="3" height="78.7" fill="#5cb394"/>
<rect x="297.5" y="148.4" width="3" height="17.7" fill="#dc505d"/>
<rect x="300.1" y="166.1" width="3" height="21.4" fill="#dc505d"/>
<rect x="302.7" y="187.6" width="3" height="12.3" fill="#dc505d"/>
<rect x="305.3" y="199.8" width="3" height="66.1" fill="#dc505d"/>
<rect x="307.8" y="265.9" width="3" height="41.6" fill="#dc505d"/>
<rect x="310.4" y="307.6" width="3" height="35.3" fill="#dc505d"/>
<rect x="313.0" y="319.7" width="3" height="23.2" fill="#5cb394"/>
<rect x="315.6" y="265.8" width="3" height="53.8" fill="#5cb394"/>
<rect x="318.2" y="245.9" width="3" height="19.9" fill="#5cb394"/>
<rect x="320.7" y="245.9" width="3" height="23.8" fill="#dc505d"/>
<rect x="323.3" y="269.8" width="3" height="18.7" fill="#dc505d"/>
<rect x="325.9" y="288.5" width="3" height="27.1" fill="#dc505d"/>
<rect x="328.5" y="283.9" width="3" height="31.7" fill="#5cb394"/>
<rect x="331.1" y="283.9" width="3" height="2.5" fill="#dc505d"/>
<rect x="333.6" y="286.4" width="3" height="12.0" fill="#dc505d"/>
<rect x="336.2" y="298.4" width="3" height="6.0" fill="#dc505d"/>
<rect x="338.8" y="288.3" width="3" height="16.2" fill="#5cb394"/>
<rect x="341.4" y="287.2" width="3" height="2.4" fill="#dc505d"/>
<rect x="344.0" y="288.4" width="3" height="6.4" fill="#dc505d"/>
<rect x="346.5" y="281.3" width="3" height="13.5" fill="#5cb394"/>
<rect x="349.1" y="260.4" width="3" height="20.9" fill="#5cb394"/>
<rect x="351.7" y="251.2" width="3" height="9.2" fill="#5cb394"/>
<rect x="354.3" y="251.2" width="3" height="9.1" fill="#dc505d"/>
<rect x="356.9" y="242.2" width="3" height="18.1" fill="#5cb394"/>
<rect x="359.4" y="242.2" width="3" height="7.9" fill="#dc505d"/>
<rect x="362.0" y="250.1" width="3" height="6.0" fill="#dc505d"/>
<rect x="364.6" y="256.1" width="3" height="6.8" fill="#dc505d"/>
<rect x="367.2" y="262.9" width="3" height="25.0" fill="#dc505d"/>
<rect x="369.8" y="287.9" width="3" height="25.0" fill="#dc505d"/>
<rect x="372.3" y="313.0" width="3" height="43.1" fill="#dc505d"/>
<rect x="374.9" y="315.2" width="3" height="40.9" fill="#5cb394"/>
<rect x="377.5" y="307.0" width="3" height="8.1" fill="#5cb394"/>
<rect x="380.1" y="307.0" width="3" height="10.7" fill="#dc505d"/>
<rect x="382.7" y="317.8" width="3" height="8.3" fill="#dc505d"/>
<rect x="385.2" y="326.0" width="3" height="7.7" fill="#dc505d"/>
<rect x="387.8" y="333.8" width="3" height="2.6" fill="#dc505d"/>
<rect x="390.4" y="336.4" width="3" height="9.2" fill="#dc505d"/>
<rect x="393.0" y="345.6" width="3" height="19.4" fill="#dc505d"/>
<rect x="395.6" y="365.0" width="3" height="9.5" fill="#dc505d"/>
<rect x="398.1" y="367.4" width="3" height="7.0" fill="#5cb394"/>
<rect x="400.7" y="359.6" width="3" height="7.9" fill="#5cb394"/>
<rect x="403.3" y="357.7" width="3" height="2.4" fill="#5cb394"/>
<rect x="405.9" y="358.3" width="3" height="7.4" fill="#dc505d"/>
<rect x="408.5" y="354.2" width="3" height="11.5" fill="#5cb394"/>
<rect x="411.0" y="353.4" width="3" height="2.4" fill="#dc505d"/>
<rect x="413.6" y="355.1" width="3" height="14.9" fill="#dc505d"/>
<rect x="416.2" y="370.0" width="3" height="18.1" fill="#dc505d"/>
<rect x="418.8" y="379.0" width="3" height="9.1" fill="#5cb394"/>
<rect x="421.4" y="379.0" width="3" height="13.6" fill="#dc505d"/>
<rect x="423.9" y="392.7" width="3" height="7.0" fill="#dc505d"/>
<rect x="426.5" y="399.7" width="3" height="3.9" fill="#dc505d"/>
<rect x="429.1" y="403.6" width="3" height="10.7" fill="#dc505d"/>
<rect x="431.7" y="413.2" width="3" height="2.4" fill="#dc505d"/>
<rect x="434.3" y="412.3" width="3" height="2.4" fill="#5cb394"/>
<rect x="436.8" y="405.5" width="3" height="6.9" fill="#5cb394"/>
<rect x="439.4" y="389.9" width="3" height="15.6" fill="#5cb394"/>
<rect x="442.0" y="365.3" width="3" height="24.6" fill="#5cb394"/>
<rect x="444.6" y="365.3" width="3" height="13.4" fill="#dc505d"/>
<rect x="447.2" y="378.7" width="3" height="14.9" fill="#dc505d"/>
<rect x="449.7" y="379.9" width="3" height="13.7" fill="#5cb394"/>
<rect x="452.3" y="376.9" width="3" height="3.0" fill="#5cb394"/>
<rect x="454.9" y="376.9" width="3" height="3.3" fill="#dc505d"/>
<rect x="457.5" y="377.3" width="3" height="2.9" fill="#5cb394"/>
<rect x="460.1" y="377.1" width="3" height="2.4" fill="#dc505d"/>
<rect x="462.6" y="365.2" width="3" height="14.1" fill="#5cb394"/>
<rect x="465.2" y="362.9" width="3" height="2.4" fill="#5cb394"/>
<rect x="467.8" y="357.6" width="3" height="5.3" fill="#5cb394"/>
<rect x="470.4" y="356.9" width="3" height="2.4" fill="#dc505d"/>
<rect x="473.0" y="341.6" width="3" height="17.0" fill="#5cb394"/>
<rect x="475.5" y="341.6" width="3" height="16.1" fill="#dc505d"/>
<rect x="478.1" y="346.3" width="3" height="11.4" fill="#5cb394"/>
<rect x="480.7" y="342.1" width="3" height="4.3" fill="#5cb394"/>
<rect x="483.3" y="342.0" width="3" height="2.4" fill="#dc505d"/>
<rect x="485.9" y="334.1" width="3" height="10.2" fill="#5cb394"/>
<rect x="488.4" y="322.4" width="3" height="11.7" fill="#5cb394"/>
<rect x="491.0" y="319.0" width="3" height="3.4" fill="#5cb394"/>
<rect x="493.6" y="319.0" width="3" height="3.1" fill="#dc505d"/>
<rect x="496.2" y="318.5" width="3" height="3.6" fill="#5cb394"/>
<rect x="498.8" y="312.8" width="3" height="5.7" fill="#5cb394"/>
<rect x="501.3" y="305.9" width="3" height="6.9" fill="#5cb394"/>
<rect x="503.9" y="300.9" width="3" height="5.0" fill="#5cb394"/>
<rect x="506.5" y="300.9" width="3" height="16.2" fill="#dc505d"/>
<rect x="509.1" y="317.1" width="3" height="10.5" fill="#dc505d"/>
<rect x="511.7" y="318.0" width="3" height="9.6" fill="#5cb394"/>
<rect x="514.2" y="308.0" width="3" height="10.0" fill="#5cb394"/>
<rect x="516.8" y="308.0" width="3" height="8.3" fill="#dc505d"/>
<rect x="519.4" y="310.6" width="3" height="5.7" fill="#5cb394"/>
<rect x="522.0" y="309.9" width="3" height="2.4" fill="#dc505d"/>
<rect x="524.6" y="299.7" width="3" height="11.9" fill="#5cb394"/>
<rect x="527.1" y="297.1" width="3" height="2.5" fill="#5cb394"/>
<rect x="529.7" y="296.9" width="3" height="2.4" fill="#dc505d"/>
<rect x="532.3" y="298.9" width="3" height="2.4" fill="#dc505d"/>
<rect x="534.9" y="291.4" width="3" height="9.9" fill="#5cb394"/>
<rect x="537.5" y="275.5" width="3" height="15.9" fill="#5cb394"/>
<rect x="540.0" y="256.2" width="3" height="19.3" fill="#5cb394"/>
<rect x="542.6" y="247.9" width="3" height="8.3" fill="#5cb394"/>
<rect x="545.2" y="247.9" width="3" height="2.6" fill="#dc505d"/>
<rect x="547.8" y="225.1" width="3" height="25.4" fill="#5cb394"/>
<rect x="550.4" y="225.1" width="3" height="9.7" fill="#dc505d"/>
<rect x="552.9" y="234.8" width="3" height="12.6" fill="#dc505d"/>
<rect x="555.5" y="247.4" width="3" height="6.6" fill="#dc505d"/>
<rect x="558.1" y="246.0" width="3" height="7.9" fill="#5cb394"/>
<rect x="560.7" y="246.0" width="3" height="19.8" fill="#dc505d"/>
<rect x="563.3" y="265.8" width="3" height="6.2" fill="#dc505d"/>
<rect x="565.8" y="266.4" width="3" height="5.6" fill="#5cb394"/>
<rect x="568.4" y="263.0" width="3" height="3.4" fill="#5cb394"/>
<rect x="571.0" y="258.5" width="3" height="4.6" fill="#5cb394"/>
<rect x="573.6" y="258.5" width="3" height="6.8" fill="#dc505d"/>
<rect x="576.2" y="265.3" width="3" height="3.7" fill="#dc505d"/>
<rect x="578.7" y="247.4" width="3" height="21.5" fill="#5cb394"/>
<rect x="581.3" y="247.4" width="3" height="4.9" fill="#dc505d"/>
<rect x="583.9" y="252.2" width="3" height="7.3" fill="#dc505d"/>
<rect x="586.5" y="250.7" width="3" height="8.9" fill="#5cb394"/>
<rect x="589.1" y="245.5" width="3" height="5.2" fill="#5cb394"/>
<rect x="591.6" y="245.4" width="3" height="2.4" fill="#dc505d"/>
<rect x="594.2" y="244.6" width="3" height="2.9" fill="#5cb394"/>
<rect x="596.8" y="243.9" width="3" height="2.4" fill="#dc505d"/>
<rect x="599.4" y="244.8" width="3" height="2.4" fill="#dc505d"/>
<rect x="602.0" y="244.6" width="3" height="2.4" fill="#5cb394"/>
<rect x="604.5" y="230.0" width="3" height="15.2" fill="#5cb394"/>
<rect x="607.1" y="199.7" width="3" height="30.3" fill="#5cb394"/>
<rect x="609.7" y="199.7" width="3" height="8.8" fill="#dc505d"/>
<rect x="612.3" y="208.6" width="3" height="24.0" fill="#dc505d"/>
<rect x="614.9" y="231.9" width="3" height="2.4" fill="#dc505d"/>
<rect x="617.4" y="224.9" width="3" height="8.7" fill="#5cb394"/>
<rect x="620.0" y="224.9" width="3" height="6.8" fill="#dc505d"/>
<rect x="622.6" y="231.7" width="3" height="8.5" fill="#dc505d"/>
<rect x="625.2" y="232.0" width="3" height="8.2" fill="#5cb394"/>
<rect x="627.8" y="231.9" width="3" height="2.4" fill="#dc505d"/>
<rect x="630.3" y="233.3" width="3" height="2.4" fill="#dc505d"/>
<rect x="632.9" y="221.0" width="3" height="13.9" fill="#5cb394"/>
<rect x="635.5" y="217.3" width="3" height="3.7" fill="#5cb394"/>
<rect x="638.1" y="216.6" width="3" height="2.4" fill="#dc505d"/>
<rect x="640.7" y="206.6" width="3" height="11.6" fill="#5cb394"/>
<rect x="643.2" y="204.3" width="3" height="2.4" fill="#5cb394"/>
<rect x="645.8" y="204.3" width="3" height="6.9" fill="#dc505d"/>
<rect x="648.4" y="199.5" width="3" height="11.7" fill="#5cb394"/>
<rect x="651.0" y="198.6" width="3" height="2.4" fill="#dc505d"/>
<rect x="653.6" y="197.9" width="3" height="2.4" fill="#5cb394"/>
<rect x="656.1" y="187.7" width="3" height="10.5" fill="#5cb394"/>
<rect x="658.7" y="186.9" width="3" height="2.4" fill="#dc505d"/>
<rect x="661.3" y="183.1" width="3" height="5.5" fill="#5cb394"/>
<rect x="663.9" y="183.0" width="3" height="2.4" fill="#dc505d"/>
<rect x="666.5" y="185.3" width="3" height="13.9" fill="#dc505d"/>
<rect x="669.0" y="196.9" width="3" height="2.4" fill="#5cb394"/>
<rect x="671.6" y="197.1" width="3" height="3.7" fill="#dc505d"/>
<rect x="674.2" y="200.8" width="3" height="8.7" fill="#dc505d"/>
<rect x="676.8" y="209.5" width="3" height="3.0" fill="#dc505d"/>
<rect x="679.4" y="212.5" width="3" height="12.1" fill="#dc505d"/>
<rect x="681.9" y="224.7" width="3" height="22.1" fill="#dc505d"/>
<rect x="684.5" y="232.9" width="3" height="13.9" fill="#5cb394"/>
<rect x="687.1" y="231.4" width="3" height="2.4" fill="#5cb394"/>
<rect x="689.7" y="232.4" width="3" height="4.2" fill="#dc505d"/>
<rect x="692.3" y="229.4" width="3" height="7.2" fill="#5cb394"/>
<rect x="694.8" y="229.4" width="3" height="6.0" fill="#dc505d"/>
<rect x="697.4" y="235.4" width="3" height="16.8" fill="#dc505d"/>
<rect x="700.0" y="249.2" width="3" height="3.1" fill="#5cb394"/>
<rect x="702.6" y="249.2" width="3" height="8.7" fill="#dc505d"/>
<rect x="705.2" y="256.9" width="3" height="2.4" fill="#dc505d"/>
<rect x="707.7" y="256.6" width="3" height="2.4" fill="#5cb394"/>
<rect x="710.3" y="257.4" width="3" height="3.4" fill="#dc505d"/>
<rect x="712.9" y="253.8" width="3" height="7.0" fill="#5cb394"/>
<rect x="715.5" y="253.8" width="3" height="16.5" fill="#dc505d"/>
<rect x="718.1" y="270.3" width="3" height="4.1" fill="#dc505d"/>
<rect x="720.6" y="263.8" width="3" height="10.5" fill="#5cb394"/>
<rect x="723.2" y="250.1" width="3" height="13.6" fill="#5cb394"/>
<rect x="725.8" y="242.9" width="3" height="7.2" fill="#5cb394"/>
<rect x="728.4" y="235.8" width="3" height="7.1" fill="#5cb394"/>
<rect x="731.0" y="235.8" width="3" height="12.6" fill="#dc505d"/>
<rect x="733.5" y="247.2" width="3" height="2.4" fill="#5cb394"/>
<rect x="736.1" y="246.6" width="3" height="2.4" fill="#5cb394"/>
<rect x="738.7" y="245.4" width="3" height="2.4" fill="#5cb394"/>
<rect x="741.3" y="244.0" width="3" height="2.4" fill="#5cb394"/>
<rect x="743.9" y="243.5" width="3" height="2.4" fill="#dc505d"/>
<rect x="746.4" y="245.1" width="3" height="4.9" fill="#dc505d"/>
<rect x="749.0" y="250.1" width="3" height="4.2" fill="#dc505d"/>
<rect x="751.6" y="254.2" width="3" height="4.5" fill="#dc505d"/>
<rect x="754.2" y="258.8" width="3" height="4.1" fill="#dc505d"/>
<rect x="756.8" y="262.4" width="3" height="2.4" fill="#dc505d"/>
<rect x="759.3" y="261.3" width="3" height="3.1" fill="#5cb394"/>
<rect x="761.9" y="253.7" width="3" height="7.7" fill="#5cb394"/>
<rect x="764.5" y="251.2" width="3" height="2.5" fill="#5cb394"/>
<rect x="767.1" y="251.2" width="3" height="9.5" fill="#dc505d"/>
<rect x="769.7" y="260.6" width="3" height="2.5" fill="#dc505d"/>
<rect x="772.2" y="263.2" width="3" height="5.9" fill="#dc505d"/>
<rect x="774.8" y="268.1" width="3" height="2.4" fill="#dc505d"/>
<rect x="777.4" y="269.5" width="3" height="14.0" fill="#dc505d"/>
<rect x="780.0" y="283.5" width="3" height="26.6" fill="#dc505d"/>
<rect x="782.6" y="310.0" width="3" height="26.4" fill="#dc505d"/>
<rect x="785.1" y="327.2" width="3" height="9.2" fill="#5cb394"/>
<rect x="787.7" y="318.1" width="3" height="9.2" fill="#5cb394"/>
<rect x="790.3" y="306.0" width="3" height="12.1" fill="#5cb394"/>
<rect x="792.9" y="293.2" width="3" height="12.8" fill="#5cb394"/>
<rect x="795.5" y="293.2" width="3" height="8.5" fill="#dc505d"/>
<rect x="798.0" y="301.7" width="3" height="15.9" fill="#dc505d"/>
<rect x="800.6" y="296.5" width="3" height="21.1" fill="#5cb394"/>
<rect x="803.2" y="296.5" width="3" height="15.6" fill="#dc505d"/>
<rect x="805.8" y="309.3" width="3" height="2.8" fill="#5cb394"/>
<rect x="808.4" y="309.3" width="3" height="7.1" fill="#dc505d"/>
<rect x="810.9" y="316.0" width="3" height="2.4" fill="#dc505d"/>
<rect x="813.5" y="310.8" width="3" height="7.2" fill="#5cb394"/>
<rect x="816.1" y="310.8" width="3" height="4.7" fill="#dc505d"/>
<rect x="818.7" y="302.9" width="3" height="12.7" fill="#5cb394"/>
<rect x="821.3" y="300.2" width="3" height="2.7" fill="#5cb394"/>
<rect x="823.8" y="300.2" width="3" height="4.1" fill="#dc505d"/>
<rect x="826.4" y="304.3" width="3" height="9.2" fill="#dc505d"/>
<rect x="829.0" y="306.9" width="3" height="6.6" fill="#5cb394"/>
<rect x="831.6" y="306.9" width="3" height="3.4" fill="#dc505d"/>
<rect x="834.2" y="310.1" width="3" height="2.4" fill="#dc505d"/>
<rect x="836.7" y="308.9" width="3" height="3.4" fill="#5cb394"/>
<rect x="839.3" y="308.6" width="3" height="2.4" fill="#dc505d"/>
<rect x="841.9" y="310.4" width="3" height="2.4" fill="#dc505d"/>
<rect x="844.5" y="311.6" width="3" height="2.4" fill="#dc505d"/>
<rect x="847.1" y="312.9" width="3" height="2.4" fill="#dc505d"/>
<rect x="849.6" y="315.2" width="3" height="3.1" fill="#dc505d"/>
<rect x="852.2" y="317.0" width="3" height="2.4" fill="#5cb394"/>
<rect x="854.8" y="318.0" width="3" height="17.7" fill="#dc505d"/>
<rect x="857.4" y="328.9" width="3" height="6.8" fill="#5cb394"/>
<rect x="860.0" y="320.8" width="3" height="8.1" fill="#5cb394"/>
<rect x="862.5" y="319.8" width="3" height="2.4" fill="#dc505d"/>
<rect x="865.1" y="320.3" width="3" height="2.4" fill="#dc505d"/>
<rect x="867.7" y="317.5" width="3" height="4.4" fill="#5cb394"/>
<rect x="870.3" y="315.6" width="3" height="2.4" fill="#5cb394"/>
<rect x="872.9" y="315.2" width="3" height="2.4" fill="#dc505d"/>
<rect x="875.4" y="315.5" width="3" height="2.4" fill="#5cb394"/>
<rect x="878.0" y="316.7" width="3" height="4.8" fill="#dc505d"/>
<rect x="880.6" y="321.1" width="3" height="2.4" fill="#dc505d"/>
<rect x="883.2" y="323.2" width="3" height="3.8" fill="#dc505d"/>
<rect x="885.8" y="326.4" width="3" height="2.4" fill="#dc505d"/>
<rect x="888.3" y="328.2" width="3" height="2.8" fill="#dc505d"/>
<rect x="890.9" y="328.8" width="3" height="2.4" fill="#5cb394"/>
<rect x="893.5" y="327.0" width="3" height="2.4" fill="#5cb394"/>
<rect x="896.1" y="325.5" width="3" height="2.4" fill="#5cb394"/>
<rect x="898.7" y="325.7" width="3" height="2.4" fill="#dc505d"/>
<rect x="901.2" y="326.9" width="3" height="2.4" fill="#dc505d"/>
<rect x="903.8" y="328.6" width="3" height="3.0" fill="#dc505d"/>
<rect x="906.4" y="329.6" width="3" height="2.4" fill="#5cb394"/>
<rect x="909.0" y="329.3" width="3" height="2.4" fill="#dc505d"/>
<rect x="911.6" y="330.1" width="3" height="2.4" fill="#dc505d"/>
<rect x="914.1" y="331.5" width="3" height="2.4" fill="#dc505d"/>
<rect x="916.7" y="330.8" width="3" height="3.0" fill="#5cb394"/>
<rect x="919.3" y="329.7" width="3" height="2.4" fill="#dc505d"/>
<rect x="921.9" y="330.8" width="3" height="2.4" fill="#dc505d"/>
<rect x="924.5" y="331.0" width="3" height="2.4" fill="#5cb394"/>
<rect x="927.0" y="330.7" width="3" height="2.4" fill="#dc505d"/>
<rect x="929.6" y="331.3" width="3" height="2.4" fill="#5cb394"/>
<rect x="932.2" y="332.5" width="3" height="2.7" fill="#dc505d"/>
<rect x="934.8" y="335.2" width="3" height="2.7" fill="#dc505d"/>
<rect x="937.4" y="337.2" width="3" height="2.4" fill="#dc505d"/>
<rect x="939.9" y="336.7" width="3" height="2.4" fill="#5cb394"/>
<rect x="942.5" y="335.5" width="3" height="2.4" fill="#5cb394"/>
<rect x="945.1" y="336.2" width="3" height="2.4" fill="#dc505d"/>
<rect x="947.7" y="336.7" width="3" height="2.4" fill="#5cb394"/>
<rect x="950.3" y="337.1" width="3" height="2.4" fill="#dc505d"/>
<rect x="952.8" y="338.9" width="3" height="9.1" fill="#dc505d"/>
<rect x="955.4" y="347.6" width="3" height="2.4" fill="#dc505d"/>
<rect x="958.0" y="347.4" width="3" height="2.4" fill="#5cb394"/>
<rect x="960.6" y="343.2" width="3" height="4.3" fill="#5cb394"/>
<rect x="963.2" y="343.2" width="3" height="4.3" fill="#dc505d"/>
<rect x="965.7" y="341.4" width="3" height="6.2" fill="#5cb394"/>
<rect x="968.3" y="337.1" width="3" height="4.3" fill="#5cb394"/>
<rect x="970.9" y="335.3" width="3" height="2.4" fill="#5cb394"/>
<rect x="973.5" y="334.1" width="3" height="2.4" fill="#5cb394"/>
<rect x="976.1" y="332.0" width="3" height="2.7" fill="#5cb394"/>
<rect x="978.6" y="332.0" width="3" height="2.9" fill="#dc505d"/>
<rect x="981.2" y="334.8" width="3" height="6.5" fill="#dc505d"/>
<rect x="983.8" y="335.9" width="3" height="5.5" fill="#5cb394"/>
<rect x="986.4" y="331.4" width="3" height="4.4" fill="#5cb394"/>
<rect x="989.0" y="329.4" width="3" height="2.4" fill="#5cb394"/>
<rect x="991.5" y="327.3" width="3" height="2.6" fill="#5cb394"/>
<rect x="994.1" y="318.9" width="3" height="8.4" fill="#5cb394"/>
<rect x="996.7" y="297.6" width="3" height="21.2" fill="#5cb394"/>
<rect x="999.3" y="297.6" width="3" height="17.8" fill="#dc505d"/>
<rect x="1001.9" y="314.0" width="3" height="2.4" fill="#5cb394"/>
<rect x="1004.4" y="313.0" width="3" height="2.4" fill="#5cb394"/>
<rect x="1007.0" y="304.7" width="3" height="8.8" fill="#5cb394"/>
<rect x="1009.6" y="296.7" width="3" height="8.0" fill="#5cb394"/>
<rect x="1012.2" y="291.4" width="3" height="5.3" fill="#5cb394"/>
<rect x="1014.8" y="283.8" width="3" height="7.6" fill="#5cb394"/>
<rect x="1017.3" y="283.6" width="3" height="2.4" fill="#dc505d"/>
<rect x="1019.9" y="279.1" width="3" height="6.7" fill="#5cb394"/>
<rect x="1022.5" y="271.7" width="3" height="7.4" fill="#5cb394"/>
<rect x="1025.1" y="257.7" width="3" height="14.1" fill="#5cb394"/>
<rect x="1027.7" y="257.1" width="3" height="2.4" fill="#dc505d"/>
<rect x="1030.2" y="258.1" width="3" height="2.4" fill="#dc505d"/>
<rect x="1032.8" y="249.5" width="3" height="10.2" fill="#5cb394"/>
<rect x="1035.4" y="246.2" width="3" height="3.3" fill="#5cb394"/>
<rect x="1038.0" y="246.2" width="3" height="14.9" fill="#dc505d"/>
<rect x="1040.6" y="261.0" width="3" height="13.4" fill="#dc505d"/>
<rect x="1043.1" y="274.5" width="3" height="13.9" fill="#dc505d"/>
<rect x="1045.7" y="271.1" width="3" height="17.2" fill="#5cb394"/>
<rect x="1048.3" y="271.1" width="3" height="4.5" fill="#dc505d"/>
<rect x="1050.9" y="272.8" width="3" height="2.8" fill="#5cb394"/>
<rect x="1053.5" y="261.1" width="3" height="11.7" fill="#5cb394"/>
<rect x="1056.0" y="260.0" width="3" height="2.4" fill="#dc505d"/>
<rect x="1058.6" y="259.7" width="3" height="2.4" fill="#5cb394"/>
<rect x="1061.2" y="258.6" width="3" height="2.4" fill="#5cb394"/>
<rect x="1063.8" y="256.8" width="3" height="2.4" fill="#5cb394"/>
<rect x="1066.4" y="255.0" width="3" height="2.4" fill="#5cb394"/>
<rect x="1068.9" y="254.0" width="3" height="2.4" fill="#5cb394"/>
<rect x="1071.5" y="251.0" width="3" height="3.9" fill="#5cb394"/>
<rect x="1074.1" y="245.8" width="3" height="5.2" fill="#5cb394"/>
<rect x="1076.7" y="244.2" width="3" height="2.4" fill="#5cb394"/>
<rect x="1078.5" y="228.8" width="3" height="1.0" fill="#5cb394"/>
<rect x="1080.2" y="216.4" width="3" height="4.4" fill="#5cb394"/>
<rect x="1082.4" y="174.3" width="3" height="42.0" fill="#5cb394"/>
<rect x="1084.1" y="174.3" width="3" height="19.9" fill="#dc505d"/>
<rect x="1087.4" y="175.4" width="3" height="65.3" fill="#dc505d"/>
<rect x="1089.0" y="239.6" width="3" height="4.4" fill="#dc505d"/>
<rect x="1091.8" y="237.4" width="3" height="4.4" fill="#5cb394"/>
<rect x="1094.0" y="231.3" width="3" height="7.2" fill="#5cb394"/>
<rect x="1096.2" y="234.1" width="3" height="3.3" fill="#dc505d"/>
<rect x="1098.2" y="224.1" width="3" height="13.3" fill="#5cb394"/>
<rect x="1100.7" y="215.3" width="3" height="7.7" fill="#5cb394"/>
<rect x="1103.1" y="214.7" width="3" height="7.2" fill="#dc505d"/>
<rect x="1105.6" y="220.8" width="3" height="5.5" fill="#dc505d"/>
<rect x="1107.8" y="219.1" width="3" height="2.8" fill="#dc505d"/>
<rect x="1110.6" y="219.7" width="3" height="5.0" fill="#dc505d"/>
<rect x="1113.4" y="216.4" width="3" height="4.4" fill="#5cb394"/>
<rect x="1115.6" y="214.7" width="3" height="2.2" fill="#5cb394"/>
</g>
<!-- channel lines -->
<g stroke="#2b4a1f" stroke-width="2" fill="none" stroke-linecap="butt">
<path d="M22 162.8L1300.9 14.4"/>
<path d="M30.5 251.2L1309.9 102.5"/>
<path d="M109.7 463.2L1557.5 264.7"/>
</g>
<!-- horizontal level line -->
<path d="M3 214.4H1800" stroke="#f040f0" stroke-width="3" opacity=".5"/>
<path d="M3 214.4H1800" stroke="#a040a0" stroke-width=".9"/>
<path d="M3 214.4H1800" stroke="#862a84" stroke-width="2.2" stroke-dasharray="4 2"/>
<!-- zigzag -->
<path d="M199.5 256L213.8 456.6" stroke="#404040" stroke-width="2" fill="none"/>
<rect x="198.4" y="242.3" width="2.3" height="14" fill="#fff" stroke="#333" stroke-width="1"/>
<path d="M213.8 456.6L297 130L433 416L664.1 177.7L786.2 359.6L1085.8 172.1" stroke="#484848" stroke-width="2.6" fill="none" stroke-linejoin="miter"/>
<!-- boxes -->
<rect x="285.4" y="119.2" width="24.4" height="28.4" fill="#00e600" fill-opacity=".56" stroke="#1c7c3c" stroke-width="1.3"/>
<rect x="652.3" y="171.4" width="23.6" height="18.1" fill="#ffff00" fill-opacity=".6" stroke="#4c4c14" stroke-width="1.2"/>
<rect x="1169.4" y="112.3" width="30.2" height="21.5" fill="#00e600" fill-opacity=".56" stroke="#1c7c3c" stroke-width="1.3"/>
<rect x="1164.5" y="176.5" width="295" height="5.5" fill="#f5f68c" stroke="#6c6c3c" stroke-width="1"/>
<!-- arrows -->
<g stroke="#0c0cb4" stroke-width="3.2" fill="none" stroke-linecap="butt">
<path d="M1086 172L1171 120.3"/>
<path d="M1153 120.3L1171 120.3L1162.9 135.8"/>
<path d="M1176.8 121.1L1314.9 296.1"/>
<path d="M1313.1 278.6L1314.9 296.1L1298 289.3"/>
</g>
<!-- separators and axes -->
<g stroke="#4d4d4d" stroke-width="1" shape-rendering="crispEdges" fill="none">
<path d="M3 714.5H1862"/><path d="M3 857.5H1862"/><path d="M3 1018.5H1801"/><path d="M1800.5 4V1018"/>
</g>
<!-- stoch -->
<g stroke="#000" stroke-width="2"><path d="M3 773.2H1799"/><path d="M3 798.6H1799"/></g>
<polyline points="3.0,756.5 5.0,769.5 7.0,778.6 9.0,781.5 11.0,775.9 13.0,763.5 15.0,748.6 17.0,736.0 19.0,727.9 21.0,724.1 23.0,726.1 25.0,733.8 27.0,747.6 29.0,767.8 31.0,790.5 33.0,810.9 35.0,825.2 37.0,833.7 39.0,837.1 41.0,837.9 43.0,839.5 45.0,841.6 47.0,842.8 49.0,841.3 51.0,834.8 53.0,822.3 55.0,804.8 57.0,784.4 59.0,765.7 61.0,754.0 63.0,750.1 65.0,753.8 67.0,764.4 69.0,777.2 71.0,790.4 73.0,802.9 75.0,813.0 77.0,820.9 79.0,827.8 81.0,833.2 83.0,835.6 85.0,835.2 87.0,831.2 89.0,824.0 91.0,814.3 93.0,801.0 95.0,785.4 97.0,769.7 99.0,755.1 101.0,743.3 103.0,734.8 105.0,729.7 107.0,727.1 109.0,726.8 111.0,727.5 113.0,727.6 115.0,727.4 117.0,727.5 119.0,730.2 121.0,737.8 123.0,750.6 125.0,766.9 127.0,784.5 129.0,797.3 131.0,801.9 133.0,798.8 135.0,788.2 137.0,775.6 139.0,767.3 141.0,764.2 143.0,767.2 145.0,775.3 147.0,785.3 149.0,793.2 151.0,800.1 153.0,805.9 155.0,811.0 157.0,817.7 159.0,823.9 161.0,828.8 163.0,831.8 165.0,833.7 167.0,834.8 169.0,835.8 171.0,836.2 173.0,835.1 175.0,832.8 177.0,828.2 179.0,821.7 181.0,812.9 183.0,800.4 185.0,784.5 187.0,766.0 189.0,748.8 191.0,736.9 193.0,730.7 195.0,730.1 197.0,731.8 199.0,733.1 201.0,734.3 203.0,738.6 205.0,747.5 207.0,761.5 209.0,780.5 211.0,800.5 213.0,818.1 215.0,831.1 217.0,837.7 219.0,837.9 221.0,834.1 223.0,827.9 225.0,821.4 227.0,816.2 229.0,812.1 231.0,808.8 233.0,805.1 235.0,800.2 237.0,793.8 239.0,786.4 241.0,779.6 243.0,776.1 245.0,776.5 247.0,778.4 249.0,780.2 251.0,778.6 253.0,770.2 255.0,758.1 257.0,745.1 259.0,733.2 261.0,726.5 263.0,724.4 265.0,724.7 267.0,727.7 269.0,734.6 271.0,745.5 273.0,760.4 275.0,778.1 277.0,794.1 279.0,806.9 281.0,814.0 283.0,814.2 285.0,810.5 287.0,804.2 289.0,798.1 291.0,793.6 293.0,788.7 295.0,781.5 297.0,772.6 299.0,762.8 301.0,754.3 303.0,751.6 305.0,758.2 307.0,771.9 309.0,790.5 311.0,810.4 313.0,825.6 315.0,835.9 317.0,841.0 319.0,840.6 321.0,836.0 323.0,828.6 325.0,820.5 327.0,814.3 329.0,810.4 331.0,807.7 333.0,805.3 335.0,801.3 337.0,795.7 339.0,789.4 341.0,783.4 343.0,779.0 345.0,777.0 347.0,775.9 349.0,774.1 351.0,770.0 353.0,762.6 355.0,754.7 357.0,748.4 359.0,744.5 361.0,743.8 363.0,745.8 365.0,749.5 367.0,754.2 369.0,761.2 371.0,771.7 373.0,785.9 375.0,801.6 377.0,815.6 379.0,823.6 381.0,825.1 383.0,820.8 385.0,813.8 387.0,807.7 389.0,803.7 391.0,803.0 393.0,804.5 395.0,807.3 397.0,811.0 399.0,815.0 401.0,817.3 403.0,816.6 405.0,812.2 407.0,804.1 409.0,793.5 411.0,781.2 413.0,768.7 415.0,757.8 417.0,751.0 419.0,750.5 421.0,754.9 423.0,764.0 425.0,777.5 427.0,790.5 429.0,802.6 431.0,813.1 433.0,820.7 435.0,826.3 437.0,829.6 439.0,829.2 441.0,823.5 443.0,812.4 445.0,797.4 447.0,781.4 449.0,766.7 451.0,756.2 453.0,750.9 455.0,748.9 457.0,748.8 459.0,748.5 461.0,747.2 463.0,745.4 465.0,743.0 467.0,740.5 469.0,737.4 471.0,733.2 473.0,729.0 475.0,725.6 477.0,724.4 479.0,727.1 481.0,732.5 483.0,740.1 485.0,749.3 487.0,754.7 489.0,756.1 491.0,754.1 493.0,748.9 495.0,743.5 497.0,739.4 499.0,736.4 501.0,734.2 503.0,732.9 505.0,731.6 507.0,731.9 509.0,736.3 511.0,746.1 513.0,762.0 515.0,780.7 517.0,796.8 519.0,808.1 521.0,813.0 523.0,812.3 525.0,809.2 527.0,805.5 529.0,802.1 531.0,799.2 533.0,796.1 535.0,791.9 537.0,786.0 539.0,778.0 541.0,767.4 543.0,754.6 545.0,743.7 547.0,737.1 549.0,736.5 551.0,741.6 553.0,749.4 555.0,758.3 557.0,767.2 559.0,777.5 561.0,790.4 563.0,804.4 565.0,818.1 567.0,828.0 569.0,833.5 571.0,835.9 573.0,834.3 575.0,831.9 577.0,829.2 579.0,825.5 581.0,821.5 583.0,816.0 585.0,807.5 587.0,796.7 589.0,785.5 591.0,775.9 593.0,769.2 595.0,765.3 597.0,762.2 599.0,759.5 601.0,757.4 603.0,756.4 605.0,757.1 607.0,757.5 609.0,755.7 611.0,751.8 613.0,749.1 615.0,752.2 617.0,762.0 619.0,778.2 621.0,798.0 623.0,816.6 625.0,830.7 627.0,838.9 629.0,841.4 631.0,840.6 633.0,839.0 635.0,836.9 637.0,833.5 639.0,827.0 641.0,816.5 643.0,801.4 645.0,783.6 647.0,767.1 649.0,754.5 651.0,747.3 653.0,744.3 655.0,743.2 657.0,741.9 659.0,739.9 661.0,737.7 663.0,735.1 665.0,732.8 667.0,733.6 669.0,738.7 671.0,749.2 673.0,766.4 675.0,787.1 677.0,808.4 679.0,825.9 681.0,837.5 683.0,843.8 685.0,846.2 687.0,845.2 689.0,841.9 691.0,836.4 693.0,828.4 695.0,819.9 697.0,812.1 699.0,807.4 701.0,804.8 703.0,805.1 705.0,807.2 707.0,809.5 709.0,811.4 711.0,812.3 713.0,813.4 715.0,813.7 717.0,811.9 719.0,811.7 721.0,811.1 723.0,808.9 725.0,806.3 727.0,800.2 729.0,789.7 731.0,775.8 733.0,761.0 735.0,748.4 737.0,741.6 739.0,741.2 741.0,745.1 743.0,750.4 745.0,752.6 747.0,752.4 749.0,752.2 751.0,752.8 753.0,757.8 755.0,768.5 757.0,784.3 759.0,803.2 761.0,820.2 763.0,830.5 765.0,830.6 767.0,820.9 769.0,807.3 771.0,794.1 773.0,785.9 775.0,785.3 777.0,790.6 779.0,800.3 781.0,812.3 783.0,823.5 785.0,833.5 787.0,839.4 789.0,840.2 791.0,836.3 793.0,827.3 795.0,813.0 797.0,796.2 799.0,779.7 801.0,765.1 803.0,754.7 805.0,748.6 807.0,745.7 809.0,744.4 811.0,744.7 813.0,745.3 815.0,745.6 817.0,746.7 819.0,748.6 821.0,749.7 823.0,749.9 825.0,748.4 827.0,745.8 829.0,744.1 831.0,744.6 833.0,746.1 835.0,749.6 837.0,754.0 839.0,758.2 841.0,762.7 843.0,767.9 845.0,774.9 847.0,783.5 849.0,793.9 851.0,803.2 853.0,810.3 855.0,815.5 857.0,819.2 859.0,820.4 861.0,818.5 863.0,812.4 865.0,801.1 867.0,786.1 869.0,770.0 871.0,755.1 873.0,744.0 875.0,738.3 877.0,735.4 879.0,733.7 881.0,733.2 883.0,734.3 885.0,739.4 887.0,749.6 889.0,763.7 891.0,778.8 893.0,791.1 895.0,798.7 897.0,798.5 899.0,791.5 901.0,783.8 903.0,776.3 905.0,772.9 907.0,774.2 909.0,776.2 911.0,778.8 913.0,779.9 915.0,781.4 917.0,783.7 919.0,786.0 921.0,789.4 923.0,790.6 925.0,790.2 927.0,786.6 929.0,780.4 931.0,774.4 933.0,768.5 935.0,765.6 937.0,768.6 939.0,776.6 941.0,788.6 943.0,803.0 945.0,815.8 947.0,824.4 949.0,827.6 951.0,828.7 953.0,829.4 955.0,831.2 957.0,835.2 959.0,838.2 961.0,837.1 963.0,829.8 965.0,816.1 967.0,796.3 969.0,774.3 971.0,755.1 973.0,740.8 975.0,732.2 977.0,728.6 979.0,727.3 981.0,727.9 983.0,730.5 985.0,735.0 987.0,740.5 989.0,745.9 991.0,749.6 993.0,749.7 995.0,746.8 997.0,741.3 999.0,734.4 1001.0,732.7 1003.0,736.5 1005.0,746.2 1007.0,760.9 1009.0,775.5 1011.0,786.9 1013.0,794.2 1015.0,797.1 1017.0,796.2 1019.0,793.8 1021.0,793.0 1023.0,792.5 1025.0,792.1 1027.0,790.1 1029.0,783.9 1031.0,775.3 1033.0,764.7 1035.0,753.6 1037.0,746.3 1039.0,745.5 1041.0,752.2 1043.0,766.9 1045.0,785.8 1047.0,804.7 1049.0,820.1 1051.0,828.9 1053.0,831.9 1055.0,829.6 1057.0,824.5 1059.0,820.3 1061.0,816.6 1063.0,813.6 1065.0,810.5 1067.0,805.0 1069.0,796.3 1071.0,784.1 1073.0,770.2 1075.0,757.0 1077.0,748.1 1079.0,743.3 1081.0,740.9 1083.0,739.6 1085.0,738.1 1087.0,737.1 1089.0,740.5 1091.0,751.5 1093.0,767.4 1095.0,787.9 1097.0,809.2 1099.0,825.4 1101.0,834.3 1103.0,836.9 1105.0,834.7 1107.0,830.5 1109.0,827.7 1111.0,826.1 1113.0,825.0 1115.0,821.9 1117.0,814.6" fill="none" stroke="#e23a52" stroke-width="1.9" stroke-opacity=".85" stroke-linejoin="round"/>
<polyline points="3.0,783.1 4.5,788.4 6.8,784.6 9.0,772.6 11.3,748.6 13.8,725.3 18.0,724.8 20.7,720.8 22.5,732.0 24.8,759.1 27.0,786.1 29.3,811.6 31.8,837.9 33.8,836.4 38.3,837.2 41.3,841.7 45.1,845.9 48.1,838.7 51.1,811.6 54.1,777.1 56.3,753.1 58.6,739.5 60.8,750.1 63.8,762.1 66.1,781.6 69.1,804.1 73.6,822.2 79.6,840.9 84.1,831.2 87.1,819.2 90.1,799.6 92.4,777.1 94.6,757.6 97.6,741.0 100.6,728.3 102.4,724.5 105.2,727.5 106.7,726.8 108.5,728.3 112.7,727.5 115.7,725.3 117.9,733.5 120.2,754.6 122.4,777.1 124.7,795.1 127.4,816.1 129.5,802.6 131.9,786.1 134.0,769.6 136.4,756.8 139.0,763.6 141.2,771.1 143.5,784.6 146.5,804.1 149.0,799.6 151.7,811.6 154.7,823.7 157.7,829.7 160.4,834.9 163.7,834.2 166.7,835.7 169.4,839.9 172.0,831.2 175.0,825.2 177.3,817.7 179.5,804.1 181.8,783.1 184.0,762.1 186.3,736.5 188.5,724.5 191.5,730.5 194.5,734.3 197.5,732.8 200.5,735.0 202.8,753.1 205.0,774.1 207.3,798.1 209.6,825.2 211.8,838.7 214.1,841.7 216.3,840.2 218.6,831.2 220.8,823.7 223.1,813.9 225.3,812.4 228.3,808.6 232.1,799.6 235.1,789.1 237.3,778.6 239.6,768.8 241.9,774.1 244.1,785.4 247.1,780.1 250.1,775.6 252.4,751.6 254.6,730.5 257.6,723.3 261.4,723.8 264.4,726.0 266.6,735.0 268.9,754.6 271.1,774.1 273.1,792.1 274.6,808.6 276.7,816.1 278.7,820.7 280.0,817.7 282.3,807.1 285.3,798.1 287.5,791.4 289.8,790.6 292.0,784.6 294.3,766.6 296.5,754.6 299.2,747.8 301.8,745.5 302.8,759.1 304.8,786.1 307.0,810.1 310.0,832.7 313.0,844.7 315.3,846.2 317.6,837.2 320.6,823.7 322.8,814.6 325.1,807.1 328.1,809.4 331.1,804.1 334.1,793.6 337.1,784.6 339.3,777.1 341.3,773.3 343.1,775.6 345.3,780.1 347.6,771.1 349.9,762.1 352.1,750.1 354.4,743.3 357.4,741.8 359.6,744.0 361.9,750.1 364.1,756.1 366.4,760.6 368.6,774.1 370.9,798.1 373.1,819.2 375.8,831.2 378.4,826.7 380.9,817.7 382.9,805.6 385.2,800.4 387.4,801.9 389.7,804.9 391.9,806.4 394.2,811.6 396.4,818.4 398.7,822.2 400.9,816.1 403.9,804.1 406.9,786.1 409.2,769.6 411.4,754.6 413.7,746.3 415.5,743.3 417.4,751.6 419.0,762.1 421.2,771.1 423.5,789.1 425.0,807.1 428.0,814.6 430.2,822.2 432.5,832.7 434.7,834.2 437.0,828.2 439.2,819.2 441.5,801.1 443.7,774.1 446.0,760.6 448.2,750.1 450.5,746.3 452.8,748.6 455.8,751.6 458.0,746.3 460.3,742.5 462.5,744.0 465.5,738.0 468.5,730.5 471.5,724.5 473.8,721.5 476.0,722.3 477.5,733.5 479.8,742.5 482.0,750.1 485.0,765.1 487.3,756.1 489.6,745.5 492.6,741.8 495.6,735.0 498.6,732.0 501.6,733.5 505.3,727.5 506.8,735.0 509.1,756.1 511.3,780.1 513.6,804.1 515.8,814.6 518.8,816.9 521.1,810.1 523.4,803.4 527.1,801.1 530.1,795.1 533.9,787.6 536.1,777.1 538.4,763.6 540.6,747.0 542.9,729.8 545.9,732.8 548.1,744.0 550.4,753.1 553.4,766.6 556.4,780.1 558.7,795.1 560.0,810.1 562.3,826.7 564.2,837.2 566.0,834.2 568.3,835.7 570.8,837.9 572.8,828.2 575.0,823.7 577.3,825.9 579.5,819.2 581.8,807.1 584.0,793.6 586.3,780.1 588.5,768.1 591.5,762.8 593.8,765.8 596.1,757.6 598.3,753.1 601.3,756.8 603.6,761.3 605.8,757.6 608.1,750.1 610.3,742.5 612.3,745.5 614.1,763.6 615.9,781.6 617.8,801.1 620.1,825.2 622.3,843.2 624.6,844.7 626.8,840.2 629.1,837.9 631.4,839.4 633.6,835.7 635.9,828.2 638.1,816.1 640.4,798.1 642.3,774.1 644.1,754.6 646.4,746.3 649.4,744.8 652.4,741.0 653.9,743.3 656.9,739.5 659.1,733.5 662.1,732.8 664.4,729.0 665.9,735.0 667.4,744.0 669.7,763.6 671.9,792.1 674.2,819.2 677.2,843.9 680.2,845.4 682.4,846.2 684.4,849.9 686.2,841.7 688.4,832.7 690.7,823.7 692.9,814.6 695.2,802.6 696.7,800.4 698.2,805.6 701.2,806.4 703.5,807.9 705.7,812.4 707.5,817.7 709.5,810.1 711.7,811.6 714.0,819.2 715.9,806.4 717.7,807.9 719.5,813.1 721.5,810.1 723.7,802.6 725.2,790.6 726.7,786.1 729.0,765.1 731.2,744.0 733.5,732.0 735.8,739.5 738.0,748.6 740.3,752.3 742.5,758.3 744.8,750.1 747.0,747.8 749.3,754.6 751.5,763.6 753.8,781.6 755.3,801.1 757.1,822.2 759.0,840.2 761.3,838.7 763.5,826.7 765.5,804.1 767.3,790.6 769.1,781.6 770.6,778.6 772.6,781.6 774.1,792.1 776.3,804.1 778.6,819.2 780.8,832.7 783.1,841.7 784.6,846.9 786.8,841.7 789.1,831.2 791.3,819.2 793.1,804.1 794.6,781.6 796.6,765.1 798.8,756.1 801.1,749.3 803.4,739.5 805.6,745.5 807.9,746.3 810.9,744.0 813.9,746.3 816.1,748.6 817.6,753.8 819.9,750.1 822.1,748.6 824.4,744.0 826.6,741.0 828.9,743.3 831.1,752.3 832.6,748.6 834.1,754.6 836.4,760.6 838.7,767.3 840.0,766.6 842.3,774.1 844.5,789.1 846.8,802.6 849.0,811.6 851.3,814.6 853.5,819.2 856.2,825.9 858.8,817.7 861.0,807.1 863.3,792.1 865.2,771.1 867.0,753.1 869.3,741.0 871.8,734.3 875.3,735.8 877.3,732.8 879.4,729.8 881.8,735.0 883.6,747.0 885.8,765.1 888.1,786.1 890.3,801.1 892.9,804.1 895.3,801.1 896.8,784.6 898.6,769.6 900.8,773.3 903.1,771.8 906.1,777.1 908.3,780.1 910.3,784.6 912.1,777.1 914.4,783.1 916.6,790.6 918.9,792.1 920.4,793.6 921.9,787.6 924.1,790.6 925.9,781.6 927.9,768.1 930.1,764.3 931.9,765.8 933.4,762.1 935.4,769.6 937.3,786.1 939.1,802.6 941.4,819.2 944.4,831.2 947.0,831.2 948.9,823.7 951.2,829.7 953.4,835.7 955.7,840.9 957.9,842.4 960.2,832.7 962.4,810.1 964.7,784.6 966.5,760.6 968.4,739.5 970.7,731.3 972.9,728.3 975.2,726.0 978.2,726.8 980.5,730.5 982.7,738.0 985.0,745.5 987.2,751.6 990.2,753.8 992.0,746.3 994.0,739.5 996.2,732.0 998.5,721.5 1000.0,733.5 1001.9,748.6 1003.7,763.6 1006.0,780.1 1007.9,793.6 1009.7,801.1 1011.5,795.9 1012.8,799.6 1015.0,794.4 1017.0,791.4 1018.8,788.4 1020.3,795.9 1022.5,793.6 1024.8,790.6 1026.3,783.1 1028.5,769.6 1030.8,757.6 1033.0,745.5 1035.3,732.8 1037.1,744.0 1039.0,760.6 1041.3,783.1 1043.5,807.1 1045.8,828.2 1048.1,838.7 1050.3,831.2 1053.3,826.7 1056.3,816.1 1059.3,813.9 1062.3,811.6 1064.6,804.1 1066.8,790.6 1069.1,774.1 1071.3,754.6 1074.3,738.0 1077.3,744.8 1080.3,738.8 1083.4,732.8 1085.2,739.5 1086.7,736.5 1088.6,751.6 1090.1,774.1 1092.4,799.6 1094.6,822.2 1097.6,846.2 1100.6,835.7 1102.9,829.7 1105.1,828.2 1107.4,825.2 1110.4,824.4 1112.6,825.2 1114.1,817.7 1115.6,804.1 1117.2,789.1 1118.7,777.1" fill="none" stroke="#3e3ecc" stroke-width="1.9" stroke-opacity=".85" stroke-linejoin="round"/>
<!-- rsi -->
<g stroke="#000" stroke-width="2"><path d="M3 882.4H1799"/><path d="M3 1008.3H1799"/></g>
<path d="M3 920H1799" stroke="#a455aa" stroke-width="1.6" stroke-dasharray="4 2.5"/>
<polyline points="3.3,913.6 5.3,890.3 7.5,889.5 9.3,894.1 11.7,890.3 14.3,888.0 16.5,885.8 18.8,876.0 20.6,862.5 22.2,888.0 23.7,918.1 25.2,914.3 27.0,916.6 28.8,917.3 30.5,902.3 32.7,921.1 34.2,913.6 36.1,915.8 38.3,915.8 40.3,922.6 42.4,931.6 44.5,939.1 46.6,931.6 48.4,924.1 50.3,917.3 52.3,913.6 54.1,904.6 55.6,892.6 56.6,880.5 58.3,889.5 59.3,910.6 60.4,933.1 61.9,921.1 63.8,912.1 65.5,906.8 67.3,914.3 69.1,925.6 70.6,935.4 72.9,935.4 75.1,930.1 76.6,927.9 78.4,933.9 80.4,927.1 82.6,924.1 84.9,923.3 87.1,921.1 89.4,920.3 91.6,915.1 93.4,905.3 96.1,904.6 97.9,906.1 99.1,909.1 100.9,901.6 102.9,897.8 104.9,900.1 106.7,897.1 108.9,891.0 111.2,882.0 113.4,877.2 116.4,877.2 117.9,892.6 119.0,906.1 121.4,908.3 123.9,901.6 126.9,894.8 129.9,889.5 132.2,887.3 134.4,874.5 136.7,867.8 137.4,896.3 139.7,896.3 142.0,893.3 144.2,891.0 145.7,894.1 146.9,899.3 148.7,891.0 150.7,892.6 152.5,904.6 154.0,918.1 155.5,931.6 157.0,916.6 158.5,915.1 161.5,920.3 163.7,933.1 165.5,944.4 167.5,937.6 169.4,938.4 171.2,921.1 172.8,928.6 174.3,937.6 176.1,927.1 178.0,921.1 179.5,913.6 181.5,913.6 183.3,903.1 185.5,894.1 187.0,888.0 188.5,885.8 190.5,903.1 192.3,897.8 194.5,892.6 196.0,877.5 197.5,870.0 199.8,867.8 201.3,895.6 202.5,921.1 204.3,908.3 206.1,912.8 208.1,924.1 209.6,928.6 211.8,940.6 213.6,954.9 215.6,928.6 217.1,924.8 219.0,920.3 220.8,927.9 222.6,931.6 224.6,927.9 226.1,927.9 227.6,932.4 230.6,929.4 232.5,933.1 235.1,930.9 237.3,927.1 239.6,927.9 241.9,930.1 244.6,931.6 247.1,927.1 249.4,921.1 251.6,917.3 254.6,918.1 256.1,916.6 258.4,903.1 260.2,893.3 262.1,894.1 264.4,897.1 266.6,907.6 267.7,909.1 269.2,931.6 271.1,929.4 273.1,915.8 274.1,921.1 276.4,920.3 278.7,919.6 280.0,919.6 281.8,913.6 283.8,909.8 286.0,910.6 287.5,909.1 288.7,921.1 290.5,919.6 292.8,910.6 295.0,900.1 296.5,889.5 297.6,876.0 299.2,900.1 301.0,902.3 303.3,909.1 304.8,916.6 305.8,933.1 307.0,945.9 308.2,941.4 310.0,954.1 311.5,960.9 313.3,963.9 315.3,954.1 317.3,939.1 318.8,930.1 320.6,934.6 322.8,935.4 324.3,938.4 325.8,946.6 327.8,953.4 329.6,939.1 331.4,937.6 333.3,940.6 335.6,941.4 337.1,944.4 338.6,951.1 339.3,936.9 341.6,938.4 343.8,940.6 345.3,942.9 347.6,936.1 349.9,928.6 352.1,920.3 353.6,924.1 355.4,933.1 357.4,928.6 359.3,920.3 361.1,926.3 363.4,928.6 365.6,931.6 367.4,934.6 369.4,945.1 371.6,957.1 373.4,968.4 375.4,957.1 376.9,946.6 378.4,941.4 380.3,950.4 382.9,946.6 385.2,954.1 387.4,954.9 389.4,950.4 391.9,957.1 394.2,962.4 396.4,971.4 397.9,960.1 399.4,963.2 401.4,953.4 403.9,948.9 405.0,957.1 406.9,956.4 408.4,949.6 410.7,945.9 413.4,945.1 415.2,950.4 417.0,957.9 418.5,964.7 420.5,954.1 422.7,957.9 424.2,958.6 425.4,965.4 427.2,963.9 429.5,967.7 431.0,959.4 432.5,964.7 434.7,961.7 437.0,960.9 439.2,957.1 440.7,951.1 442.2,936.1 443.7,925.6 446.0,936.1 447.9,944.4 449.7,936.1 452.0,931.6 454.0,931.6 455.5,939.1 457.3,933.1 459.5,931.6 462.1,934.6 464.0,927.9 466.3,924.1 468.5,922.6 469.6,918.8 471.5,919.6 473.8,914.3 475.3,903.8 476.5,924.1 478.3,919.6 479.5,921.1 481.3,913.6 482.8,912.1 484.0,919.6 485.8,915.8 488.1,909.1 490.3,902.3 492.1,904.6 494.1,907.6 496.3,903.8 498.1,902.3 499.6,897.1 501.1,899.3 503.1,894.8 505.3,890.3 506.8,903.1 508.3,914.3 509.8,919.6 511.3,928.6 512.5,939.9 513.6,924.1 515.1,914.3 517.3,913.6 519.1,929.4 520.6,921.1 522.6,919.6 524.9,918.8 526.4,911.3 527.6,919.6 529.4,912.1 531.2,915.1 533.1,919.6 535.1,915.1 536.9,909.1 539.1,904.6 541.1,895.6 542.6,887.3 543.6,884.3 545.6,906.1 547.1,901.6 548.6,891.0 550.4,899.3 552.6,904.6 554.9,908.3 557.2,917.3 558.7,913.6 560.0,914.3 561.8,930.1 564.2,945.9 566.3,930.1 568.3,935.4 570.5,931.6 572.0,927.9 573.8,927.1 575.8,936.1 578.0,936.9 580.3,917.3 582.5,919.6 584.8,920.3 585.8,928.6 587.3,930.9 589.3,924.8 591.5,921.1 593.3,920.3 594.9,925.6 596.8,918.8 598.8,922.6 601.3,923.3 603.6,924.1 605.4,921.8 606.9,906.1 608.8,894.8 610.6,882.8 612.3,906.1 613.3,927.9 615.3,927.1 617.4,930.1 619.3,931.6 621.6,920.3 623.1,933.1 624.6,942.1 626.4,930.9 628.8,936.1 630.6,933.1 633.3,934.6 635.1,921.1 637.4,918.1 639.6,917.3 641.9,919.6 643.4,907.6 645.3,910.6 647.4,924.1 649.4,915.1 650.9,910.6 652.8,909.1 654.6,911.3 656.4,906.8 657.6,918.1 659.1,908.3 661.4,907.6 662.9,906.8 664.7,901.6 666.4,910.6 668.5,927.1 670.4,927.9 671.5,933.1 673.0,924.8 674.9,936.1 677.2,942.1 679.4,944.4 681.4,952.6 682.9,964.7 684.4,978.9 686.2,957.1 687.7,948.9 689.5,953.4 691.4,948.1 693.7,947.4 695.2,948.9 697.0,955.6 698.5,970.7 700.0,961.7 702.0,960.1 703.5,959.4 705.4,961.7 707.2,967.7 708.7,963.2 711.0,963.2 712.9,963.2 714.7,965.4 715.5,949.6 717.4,964.7 719.5,965.4 721.9,958.6 723.7,948.1 725.2,934.6 726.7,925.6 728.5,937.6 730.5,928.6 731.5,927.1 733.5,936.1 735.0,940.6 737.3,940.6 738.5,928.6 740.3,937.6 742.5,941.4 744.5,929.4 746.3,934.6 748.5,939.9 750.8,942.1 752.3,941.4 754.1,946.6 756.5,954.1 758.6,956.4 760.5,949.6 762.5,942.9 764.0,939.9 765.5,943.6 766.5,925.6 768.1,941.4 770.0,946.6 772.1,947.4 774.5,951.1 776.6,955.6 778.6,963.2 780.1,970.7 781.6,978.2 783.1,991.7 784.6,1001.5 786.1,985.7 787.1,973.7 789.1,975.2 790.6,964.7 792.1,954.1 793.6,948.1 794.6,940.6 796.6,938.4 798.1,954.1 799.6,956.4 801.6,955.6 802.6,951.1 803.4,933.1 805.6,948.1 807.1,943.6 808.6,946.6 810.1,954.1 812.1,947.4 814.2,941.4 816.1,946.6 818.1,941.4 819.9,935.4 821.4,938.4 823.2,933.9 825.1,936.1 826.6,937.6 828.6,942.9 830.4,943.6 831.9,939.9 833.7,942.1 835.6,940.6 837.9,941.4 840.0,939.1 842.3,941.4 843.8,945.1 845.3,942.9 847.5,944.4 849.8,947.4 851.7,939.9 853.8,949.6 855.0,958.6 856.5,972.9 858.0,958.6 859.5,951.9 861.8,945.9 863.7,940.6 865.5,938.4 867.3,944.4 869.3,942.1 871.2,941.4 873.0,936.1 875.3,941.4 877.3,936.1 879.4,935.4 880.9,942.1 882.4,948.9 884.3,947.4 886.3,961.7 888.1,954.1 889.6,943.6 891.4,950.4 893.3,948.1 895.6,946.6 897.1,939.9 898.6,938.4 900.1,944.4 901.9,949.6 903.4,945.1 904.9,951.1 906.8,947.4 908.8,945.9 910.3,951.9 912.1,945.1 914.4,949.6 916.6,957.9 918.4,948.1 920.4,945.1 921.9,943.6 923.8,947.4 925.6,946.6 926.4,949.6 928.6,943.6 930.9,945.9 933.4,948.9 935.4,953.4 937.6,957.9 939.4,961.7 940.9,956.4 943.3,956.4 945.2,957.1 947.0,957.9 949.4,956.4 950.9,960.1 952.4,970.7 953.9,982.7 954.9,986.4 956.9,986.4 958.4,982.7 959.9,969.2 961.7,956.4 963.5,958.6 965.4,961.7 967.4,954.1 968.9,939.1 970.4,921.1 972.2,911.3 973.7,918.1 975.2,922.6 977.0,913.6 979.0,915.8 980.9,928.6 983.5,942.1 985.4,931.6 987.2,925.6 989.0,922.6 991.0,915.1 992.9,909.1 994.7,901.6 996.2,890.3 997.7,873.8 999.2,873.8 1000.7,915.1 1002.5,917.3 1004.5,927.9 1006.4,917.3 1008.2,909.1 1010.0,902.3 1011.5,898.6 1012.5,921.1 1014.0,906.1 1015.8,900.8 1018.0,900.1 1019.5,911.3 1020.3,903.1 1022.1,904.6 1023.6,901.6 1025.5,896.3 1027.0,891.8 1028.5,888.0 1030.5,898.6 1032.3,895.6 1034.1,890.3 1035.6,888.8 1037.1,900.1 1039.0,915.1 1041.0,927.1 1042.0,934.6 1042.8,930.1 1044.3,944.4 1046.1,933.1 1048.1,931.6 1049.6,927.1 1051.5,936.1 1053.3,928.6 1055.1,924.1 1056.6,918.1 1058.6,929.4 1060.1,921.8 1062.0,930.9 1063.8,921.8 1066.1,920.3 1068.3,919.6 1070.6,925.6 1072.5,922.6 1074.3,912.8 1076.1,921.8 1078.1,912.1 1080.3,901.6 1082.2,892.6 1083.4,878.3 1085.2,898.6 1086.7,894.8 1087.9,934.6 1090.1,933.9 1091.6,935.4 1093.9,932.4 1095.7,929.4 1097.6,932.4 1099.6,926.3 1102.1,921.8 1104.1,925.6 1106.6,928.6 1108.6,924.8 1111.1,927.9 1113.4,925.6 1115.6,921.8 1117.9,920.8 1120.0,919.9" fill="none" stroke="#a04ca4" stroke-width="2" stroke-opacity=".9" stroke-linejoin="round"/>
<g class="ax">
<path d="M1800.5 11.5h3.5" stroke="#4d4d4d"/><text x="1807" y="15.7">6500000.0</text>
<path d="M1800.5 43.8h3.5" stroke="#4d4d4d"/><text x="1807" y="48.0">6250000.0</text>
<path d="M1800.5 76.1h3.5" stroke="#4d4d4d"/><text x="1807" y="80.3">6000000.0</text>
<path d="M1800.5 108.3h3.5" stroke="#4d4d4d"/><text x="1807" y="112.5">5750000.0</text>
<path d="M1800.5 140.6h3.5" stroke="#4d4d4d"/><text x="1807" y="144.8">5500000.0</text>
<path d="M1800.5 172.9h3.5" stroke="#4d4d4d"/><text x="1807" y="177.1">5250000.0</text>
<path d="M1800.5 205.2h3.5" stroke="#4d4d4d"/><text x="1807" y="209.4">5000000.0</text>
<path d="M1800.5 237.5h3.5" stroke="#4d4d4d"/><text x="1807" y="241.7">4750000.0</text>
<path d="M1800.5 269.7h3.5" stroke="#4d4d4d"/><text x="1807" y="273.9">4500000.0</text>
<path d="M1800.5 302.0h3.5" stroke="#4d4d4d"/><text x="1807" y="306.2">4250000.0</text>
<path d="M1800.5 334.3h3.5" stroke="#4d4d4d"/><text x="1807" y="338.5">4000000.0</text>
<path d="M1800.5 366.6h3.5" stroke="#4d4d4d"/><text x="1807" y="370.8">3750000.0</text>
<path d="M1800.5 398.9h3.5" stroke="#4d4d4d"/><text x="1807" y="403.1">3500000.0</text>
<path d="M1800.5 431.1h3.5" stroke="#4d4d4d"/><text x="1807" y="435.3">3250000.0</text>
<path d="M1800.5 463.4h3.5" stroke="#4d4d4d"/><text x="1807" y="467.6">3000000.0</text>
<path d="M1800.5 495.7h3.5" stroke="#4d4d4d"/><text x="1807" y="499.9">2750000.0</text>
<path d="M1800.5 528.0h3.5" stroke="#4d4d4d"/><text x="1807" y="532.2">2500000.0</text>
<path d="M1800.5 560.3h3.5" stroke="#4d4d4d"/><text x="1807" y="564.5">2250000.0</text>
<path d="M1800.5 592.5h3.5" stroke="#4d4d4d"/><text x="1807" y="596.7">2000000.0</text>
<path d="M1800.5 624.8h3.5" stroke="#4d4d4d"/><text x="1807" y="629.0">1750000.0</text>
<path d="M1800.5 657.1h3.5" stroke="#4d4d4d"/><text x="1807" y="661.3">1500000.0</text>
<path d="M1800.5 689.4h3.5" stroke="#4d4d4d"/><text x="1807" y="693.6">1250000.0</text>
<path d="M1800.5 722.3h3.5" stroke="#4d4d4d"/><text x="1807" y="726.5">100.0000</text>
<path d="M1800.5 754.1h3.5" stroke="#4d4d4d"/><text x="1807" y="758.3">75.0000</text>
<path d="M1800.5 785.9h3.5" stroke="#4d4d4d"/><text x="1807" y="790.1">50.0000</text>
<path d="M1800.5 817.6h3.5" stroke="#4d4d4d"/><text x="1807" y="821.8">25.0000</text>
<path d="M1800.5 849.4h3.5" stroke="#4d4d4d"/><text x="1807" y="853.6">0.0000</text>
<path d="M1800.5 882.5h3.5" stroke="#4d4d4d"/><text x="1807" y="886.7">80.0000</text>
<path d="M1800.5 918.5h3.5" stroke="#4d4d4d"/><text x="1807" y="922.7">60.0000</text>
<path d="M1800.5 954.5h3.5" stroke="#4d4d4d"/><text x="1807" y="958.7">40.0000</text>
<path d="M1800.5 990.5h3.5" stroke="#4d4d4d"/><text x="1807" y="994.7">20.0000</text>
<path d="M54.2 1018v4" stroke="#4d4d4d"/><text x="54.2" y="1035.5" text-anchor="middle">May</text>
<path d="M149.4 1018v4" stroke="#4d4d4d"/><text x="149.4" y="1035.5" text-anchor="middle">Jul</text>
<path d="M258.5 1018v4" stroke="#4d4d4d"/><text x="258.5" y="1035.5" text-anchor="middle">Sep</text>
<path d="M356.3 1018v4" stroke="#4d4d4d"/><text x="356.3" y="1035.5" text-anchor="middle">Nov</text>
<path d="M456.4 1018v4" stroke="#4d4d4d"/><text x="456.4" y="1035.5" text-anchor="middle" font-weight="bold">2019</text>
<path d="M560.5 1018v4" stroke="#4d4d4d"/><text x="560.5" y="1035.5" text-anchor="middle">Mar</text>
<path d="M651.6 1018v4" stroke="#4d4d4d"/><text x="651.6" y="1035.5" text-anchor="middle">May</text>
<path d="M759.7 1018v4" stroke="#4d4d4d"/><text x="759.7" y="1035.5" text-anchor="middle">Jul</text>
<path d="M868.5 1018v4" stroke="#4d4d4d"/><text x="868.5" y="1035.5" text-anchor="middle">Sep</text>
<path d="M971.3 1018v4" stroke="#4d4d4d"/><text x="971.3" y="1035.5" text-anchor="middle">Nov</text>
<path d="M1077.4 1018v4" stroke="#4d4d4d"/><text x="1077.4" y="1035.5" text-anchor="middle" font-weight="bold">2020</text>
<path d="M1184.0 1018v4" stroke="#4d4d4d"/><text x="1184.0" y="1035.5" text-anchor="middle">Mar</text>
<path d="M1291.5 1018v4" stroke="#4d4d4d"/><text x="1291.5" y="1035.5" text-anchor="middle">May</text>
<path d="M1398.3 1018v4" stroke="#4d4d4d"/><text x="1398.3" y="1035.5" text-anchor="middle">Jul</text>
<path d="M1474.4 1018v4" stroke="#4d4d4d"/><text x="1474.4" y="1035.5" text-anchor="middle">13</text>
</g>
<!-- logo -->
<circle cx="32.3" cy="683.6" r="16" fill="#fff" stroke="#efeaf0" stroke-width="1"/>
<g fill="#3b97d3"><circle cx="24.9" cy="686.5" r="3"/><circle cx="30.4" cy="682" r="5.1"/><circle cx="37.7" cy="684.9" r="4.6"/><rect x="24.9" y="684" width="12.8" height="5.5"/></g>
<path d="M22.6 686.8L29.9 681.2L34.7 686.8L40 681.5" stroke="#e4f6ff" stroke-width="1.1" fill="none"/>
</svg>
<div class="exit">Exit Full Screen (ESC)</div>
<div class="tv">Chart by TradingView</div>
<div class="note"><span class="nn">4.920.000</span><span class="na">تراز روزانه روی قیمت</span></div>
<div class="tag" style="top:172px;background:#4e90cc">4971864.0</div>
<div class="tag" style="top:189px;background:#6b1c4e">4923045.0</div>
<div class="tag" style="top:206px;background:#f013e6">4925000.0</div>
<div class="dt">۱۳۹۸/۱۱/۲۱</div>
</body></html>
